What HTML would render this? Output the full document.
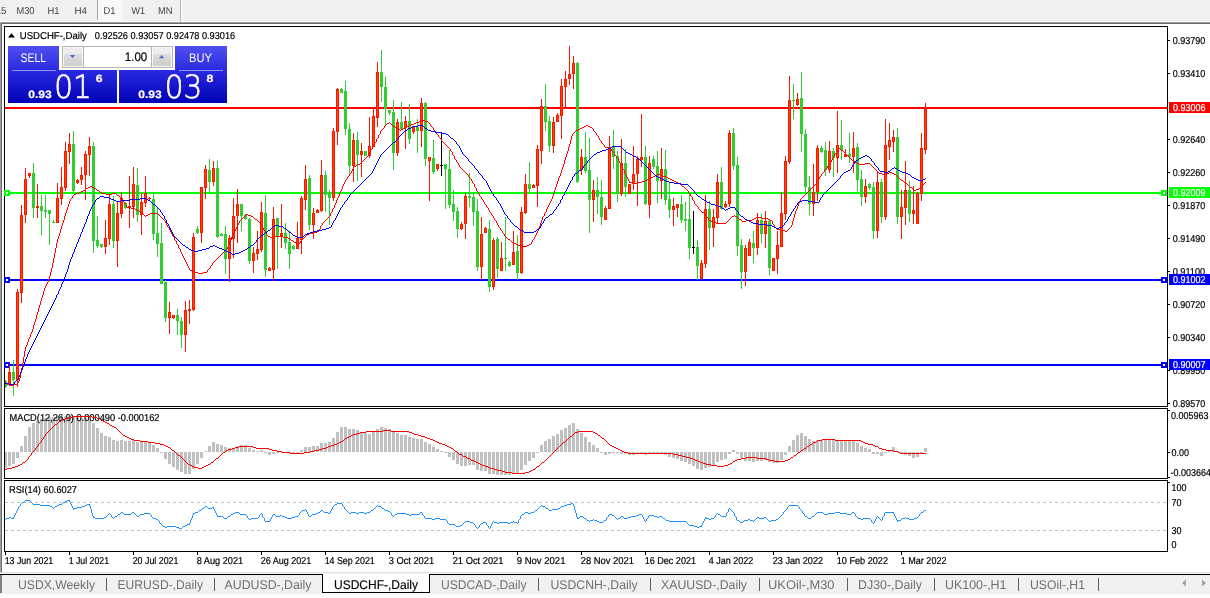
<!DOCTYPE html>
<html><head><meta charset="utf-8"><title>USDCHF-,Daily</title>
<style>html,body{margin:0;padding:0;background:#fff;overflow:hidden}svg{display:block}text{font-family:"Liberation Sans",sans-serif;white-space:pre}</style>
</head><body>
<svg text-rendering="geometricPrecision" width="1210" height="598" viewBox="0 0 1210 598">
<rect x="0" y="0" width="1210" height="598" fill="#fff"/>
<rect x="0" y="0" width="1210" height="22" fill="#f0f0f0"/>
<rect x="0" y="21" width="1210" height="1" fill="#fbfbfb"/>
<rect x="98" y="0" width="24" height="21" fill="#f8f8f8"/>
<rect x="97" y="0" width="1" height="20" fill="#a8a8a8"/>
<rect x="180" y="0" width="1" height="22" fill="#b4b4b4"/>
<rect x="181" y="0" width="1" height="22" fill="#fff"/>
<text x="-4.5" y="14" font-size="10" fill="#404040" textLength="11.0" lengthAdjust="spacingAndGlyphs">15</text>
<text x="16.5" y="14" font-size="10" fill="#404040" textLength="18.0" lengthAdjust="spacingAndGlyphs">M30</text>
<text x="47.5" y="14" font-size="10" fill="#404040" textLength="12.0" lengthAdjust="spacingAndGlyphs">H1</text>
<text x="74.5" y="14" font-size="10" fill="#404040" textLength="12.5" lengthAdjust="spacingAndGlyphs">H4</text>
<text x="103.5" y="14" font-size="10" fill="#404040" textLength="12.0" lengthAdjust="spacingAndGlyphs">D1</text>
<text x="131.5" y="14" font-size="10" fill="#404040" textLength="13.5" lengthAdjust="spacingAndGlyphs">W1</text>
<text x="158" y="14" font-size="10" fill="#404040" textLength="14.5" lengthAdjust="spacingAndGlyphs">MN</text>
<rect x="0" y="22" width="1210" height="1" fill="#a0a0a0"/>
<rect x="0" y="23" width="1210" height="1" fill="#696969"/>
<rect x="0" y="22" width="1" height="550" fill="#a0a0a0"/>
<rect x="1" y="23" width="1" height="549" fill="#696969"/>
<rect x="4" y="26" width="1164" height="1" fill="#000"/>
<rect x="4" y="406" width="1164" height="1" fill="#000"/>
<rect x="4" y="26" width="1" height="381" fill="#000"/>
<rect x="1167" y="26" width="1" height="381" fill="#000"/>
<rect x="4" y="408" width="1164" height="1" fill="#000"/>
<rect x="4" y="478" width="1164" height="1" fill="#000"/>
<rect x="4" y="408" width="1" height="71" fill="#000"/>
<rect x="1167" y="408" width="1" height="71" fill="#000"/>
<rect x="4" y="480" width="1164" height="1" fill="#000"/>
<rect x="4" y="551" width="1164" height="1" fill="#000"/>
<rect x="4" y="480" width="1" height="72" fill="#000"/>
<rect x="1167" y="480" width="1" height="72" fill="#000"/>
<rect x="1168" y="40" width="2" height="1" fill="#000"/>
<text x="1172.7" y="44" font-size="10" fill="#000" textLength="32.5" lengthAdjust="spacingAndGlyphs" stroke="#000" stroke-width="0.2">0.93790</text>
<rect x="1168" y="73" width="2" height="1" fill="#000"/>
<text x="1172.7" y="77" font-size="10" fill="#000" textLength="32.5" lengthAdjust="spacingAndGlyphs" stroke="#000" stroke-width="0.2">0.93410</text>
<rect x="1168" y="139" width="2" height="1" fill="#000"/>
<text x="1172.7" y="143" font-size="10" fill="#000" textLength="32.5" lengthAdjust="spacingAndGlyphs" stroke="#000" stroke-width="0.2">0.92640</text>
<rect x="1168" y="172" width="2" height="1" fill="#000"/>
<text x="1172.7" y="176" font-size="10" fill="#000" textLength="32.5" lengthAdjust="spacingAndGlyphs" stroke="#000" stroke-width="0.2">0.92260</text>
<rect x="1168" y="205" width="2" height="1" fill="#000"/>
<text x="1172.7" y="209" font-size="10" fill="#000" textLength="32.5" lengthAdjust="spacingAndGlyphs" stroke="#000" stroke-width="0.2">0.91870</text>
<rect x="1168" y="238" width="2" height="1" fill="#000"/>
<text x="1172.7" y="242" font-size="10" fill="#000" textLength="32.5" lengthAdjust="spacingAndGlyphs" stroke="#000" stroke-width="0.2">0.91490</text>
<rect x="1168" y="271" width="2" height="1" fill="#000"/>
<text x="1172.7" y="275" font-size="10" fill="#000" textLength="32.5" lengthAdjust="spacingAndGlyphs" stroke="#000" stroke-width="0.2">0.91100</text>
<rect x="1168" y="304" width="2" height="1" fill="#000"/>
<text x="1172.7" y="308" font-size="10" fill="#000" textLength="32.5" lengthAdjust="spacingAndGlyphs" stroke="#000" stroke-width="0.2">0.90720</text>
<rect x="1168" y="337" width="2" height="1" fill="#000"/>
<text x="1172.7" y="341" font-size="10" fill="#000" textLength="32.5" lengthAdjust="spacingAndGlyphs" stroke="#000" stroke-width="0.2">0.90340</text>
<rect x="1168" y="370" width="2" height="1" fill="#000"/>
<text x="1172.7" y="374" font-size="10" fill="#000" textLength="32.5" lengthAdjust="spacingAndGlyphs" stroke="#000" stroke-width="0.2">0.89950</text>
<rect x="1168" y="403" width="2" height="1" fill="#000"/>
<text x="1172.7" y="407" font-size="10" fill="#000" textLength="32.5" lengthAdjust="spacingAndGlyphs" stroke="#000" stroke-width="0.2">0.89570</text>
<rect x="5" y="107" width="1162" height="2" fill="#ff0000"/>
<rect x="1169" y="102" width="41" height="11" fill="#ff0000"/>
<text x="1173" y="111" font-size="10" fill="#fff" textLength="32.5" lengthAdjust="spacingAndGlyphs" stroke="#fff" stroke-width="0.2">0.93006</text>
<rect x="5" y="192" width="1162" height="2" fill="#00ff00"/>
<rect x="4" y="190" width="6" height="6" fill="#00ff00"/>
<rect x="6" y="192" width="2" height="2" fill="#fff"/>
<rect x="1161" y="190" width="6" height="6" fill="#00ff00"/>
<rect x="1163" y="192" width="2" height="2" fill="#fff"/>
<rect x="1169" y="187" width="41" height="11" fill="#00ff00"/>
<text x="1173" y="196" font-size="10" fill="#fff" textLength="32.5" lengthAdjust="spacingAndGlyphs" stroke="#fff" stroke-width="0.2">0.92009</text>
<rect x="5" y="279" width="1162" height="2" fill="#0000ff"/>
<rect x="4" y="277" width="6" height="6" fill="#0000ff"/>
<rect x="6" y="279" width="2" height="2" fill="#fff"/>
<rect x="1161" y="277" width="6" height="6" fill="#0000ff"/>
<rect x="1163" y="279" width="2" height="2" fill="#fff"/>
<rect x="1169" y="274" width="41" height="11" fill="#0000ff"/>
<text x="1173" y="283" font-size="10" fill="#fff" textLength="32.5" lengthAdjust="spacingAndGlyphs" stroke="#fff" stroke-width="0.2">0.91002</text>
<rect x="5" y="364" width="1162" height="2" fill="#0000ff"/>
<rect x="4" y="362" width="6" height="6" fill="#0000ff"/>
<rect x="6" y="364" width="2" height="2" fill="#fff"/>
<rect x="1161" y="362" width="6" height="6" fill="#0000ff"/>
<rect x="1163" y="364" width="2" height="2" fill="#fff"/>
<rect x="1169" y="359" width="41" height="11" fill="#0000ff"/>
<text x="1173" y="368" font-size="10" fill="#fff" textLength="32.5" lengthAdjust="spacingAndGlyphs" stroke="#fff" stroke-width="0.2">0.90007</text>
<g shape-rendering="crispEdges">
<rect x="5" y="380" width="1" height="8" fill="#32cd32"/>
<rect x="5" y="381" width="2" height="6" fill="#32cd32"/>
<rect x="9" y="365" width="1" height="21" fill="#ff1400"/>
<rect x="8" y="372" width="3" height="12" fill="#ff1400"/>
<rect x="9" y="373" width="1" height="10" fill="#ff4500"/>
<rect x="13" y="360" width="1" height="36" fill="#32cd32"/>
<rect x="12" y="372" width="3" height="8" fill="#32cd32"/>
<rect x="17" y="289" width="1" height="98" fill="#ff1400"/>
<rect x="16" y="292" width="3" height="88" fill="#ff1400"/>
<rect x="17" y="293" width="1" height="86" fill="#ff4500"/>
<rect x="21" y="205" width="1" height="98" fill="#ff1400"/>
<rect x="20" y="215" width="3" height="78" fill="#ff1400"/>
<rect x="21" y="216" width="1" height="76" fill="#ff4500"/>
<rect x="25" y="168" width="1" height="55" fill="#ff1400"/>
<rect x="24" y="179" width="3" height="36" fill="#ff1400"/>
<rect x="25" y="180" width="1" height="34" fill="#ff4500"/>
<rect x="29" y="173" width="1" height="5" fill="#ff1400"/>
<rect x="28" y="173" width="3" height="3" fill="#ff1400"/>
<rect x="29" y="174" width="1" height="1" fill="#ff4500"/>
<rect x="33" y="163" width="1" height="55" fill="#32cd32"/>
<rect x="32" y="173" width="3" height="35" fill="#32cd32"/>
<rect x="37" y="184" width="1" height="34" fill="#ff1400"/>
<rect x="36" y="206" width="3" height="2" fill="#ff1400"/>
<rect x="41" y="195" width="1" height="40" fill="#32cd32"/>
<rect x="40" y="206" width="3" height="5" fill="#32cd32"/>
<rect x="45" y="195" width="1" height="23" fill="#32cd32"/>
<rect x="44" y="210" width="3" height="2" fill="#32cd32"/>
<rect x="49" y="210" width="1" height="35" fill="#32cd32"/>
<rect x="48" y="210" width="3" height="4" fill="#32cd32"/>
<rect x="53" y="220" width="1" height="3" fill="#32cd32"/>
<rect x="52" y="222" width="3" height="1" fill="#32cd32"/>
<rect x="57" y="183" width="1" height="40" fill="#ff1400"/>
<rect x="56" y="198" width="3" height="25" fill="#ff1400"/>
<rect x="57" y="199" width="1" height="23" fill="#ff4500"/>
<rect x="61" y="167" width="1" height="38" fill="#ff1400"/>
<rect x="60" y="187" width="3" height="12" fill="#ff1400"/>
<rect x="61" y="188" width="1" height="10" fill="#ff4500"/>
<rect x="65" y="142" width="1" height="49" fill="#ff1400"/>
<rect x="64" y="151" width="3" height="37" fill="#ff1400"/>
<rect x="65" y="152" width="1" height="35" fill="#ff4500"/>
<rect x="69" y="133" width="1" height="31" fill="#ff1400"/>
<rect x="68" y="144" width="3" height="8" fill="#ff1400"/>
<rect x="69" y="145" width="1" height="6" fill="#ff4500"/>
<rect x="73" y="131" width="1" height="61" fill="#32cd32"/>
<rect x="72" y="144" width="3" height="47" fill="#32cd32"/>
<rect x="77" y="179" width="1" height="5" fill="#ff1400"/>
<rect x="76" y="180" width="3" height="3" fill="#ff1400"/>
<rect x="77" y="181" width="1" height="1" fill="#ff4500"/>
<rect x="81" y="167" width="1" height="18" fill="#ff1400"/>
<rect x="80" y="175" width="3" height="5" fill="#ff1400"/>
<rect x="81" y="176" width="1" height="3" fill="#ff4500"/>
<rect x="85" y="151" width="1" height="49" fill="#ff1400"/>
<rect x="84" y="154" width="3" height="21" fill="#ff1400"/>
<rect x="85" y="155" width="1" height="19" fill="#ff4500"/>
<rect x="89" y="137" width="1" height="39" fill="#ff1400"/>
<rect x="88" y="146" width="3" height="9" fill="#ff1400"/>
<rect x="89" y="147" width="1" height="7" fill="#ff4500"/>
<rect x="93" y="142" width="1" height="111" fill="#32cd32"/>
<rect x="92" y="146" width="3" height="95" fill="#32cd32"/>
<rect x="97" y="216" width="1" height="32" fill="#32cd32"/>
<rect x="96" y="240" width="3" height="6" fill="#32cd32"/>
<rect x="101" y="244" width="1" height="4" fill="#32cd32"/>
<rect x="100" y="244" width="3" height="3" fill="#32cd32"/>
<rect x="105" y="220" width="1" height="34" fill="#ff1400"/>
<rect x="104" y="238" width="3" height="9" fill="#ff1400"/>
<rect x="105" y="239" width="1" height="7" fill="#ff4500"/>
<rect x="109" y="194" width="1" height="51" fill="#ff1400"/>
<rect x="108" y="204" width="3" height="35" fill="#ff1400"/>
<rect x="109" y="205" width="1" height="33" fill="#ff4500"/>
<rect x="113" y="196" width="1" height="52" fill="#32cd32"/>
<rect x="112" y="204" width="3" height="37" fill="#32cd32"/>
<rect x="117" y="201" width="1" height="66" fill="#ff1400"/>
<rect x="116" y="213" width="3" height="28" fill="#ff1400"/>
<rect x="117" y="214" width="1" height="26" fill="#ff4500"/>
<rect x="121" y="192" width="1" height="26" fill="#ff1400"/>
<rect x="120" y="198" width="3" height="16" fill="#ff1400"/>
<rect x="121" y="199" width="1" height="14" fill="#ff4500"/>
<rect x="125" y="202" width="1" height="7" fill="#32cd32"/>
<rect x="124" y="203" width="3" height="5" fill="#32cd32"/>
<rect x="129" y="176" width="1" height="52" fill="#ff1400"/>
<rect x="128" y="206" width="3" height="2" fill="#ff1400"/>
<rect x="133" y="167" width="1" height="51" fill="#ff1400"/>
<rect x="132" y="184" width="3" height="23" fill="#ff1400"/>
<rect x="133" y="185" width="1" height="21" fill="#ff4500"/>
<rect x="137" y="168" width="1" height="54" fill="#32cd32"/>
<rect x="136" y="185" width="3" height="30" fill="#32cd32"/>
<rect x="141" y="193" width="1" height="42" fill="#ff1400"/>
<rect x="140" y="202" width="3" height="13" fill="#ff1400"/>
<rect x="141" y="203" width="1" height="11" fill="#ff4500"/>
<rect x="145" y="176" width="1" height="31" fill="#ff1400"/>
<rect x="144" y="193" width="3" height="10" fill="#ff1400"/>
<rect x="145" y="194" width="1" height="8" fill="#ff4500"/>
<rect x="149" y="197" width="1" height="3" fill="#ff1400"/>
<rect x="148" y="198" width="3" height="1" fill="#ff1400"/>
<rect x="153" y="194" width="1" height="46" fill="#32cd32"/>
<rect x="152" y="199" width="3" height="35" fill="#32cd32"/>
<rect x="157" y="207" width="1" height="50" fill="#32cd32"/>
<rect x="156" y="233" width="3" height="11" fill="#32cd32"/>
<rect x="161" y="223" width="1" height="61" fill="#32cd32"/>
<rect x="160" y="243" width="3" height="41" fill="#32cd32"/>
<rect x="165" y="280" width="1" height="42" fill="#32cd32"/>
<rect x="164" y="282" width="3" height="36" fill="#32cd32"/>
<rect x="169" y="302" width="1" height="32" fill="#ff1400"/>
<rect x="168" y="312" width="3" height="6" fill="#ff1400"/>
<rect x="169" y="313" width="1" height="4" fill="#ff4500"/>
<rect x="173" y="315" width="1" height="4" fill="#ff1400"/>
<rect x="172" y="315" width="3" height="3" fill="#ff1400"/>
<rect x="173" y="316" width="1" height="1" fill="#ff4500"/>
<rect x="177" y="309" width="1" height="26" fill="#32cd32"/>
<rect x="176" y="315" width="3" height="6" fill="#32cd32"/>
<rect x="181" y="317" width="1" height="31" fill="#32cd32"/>
<rect x="180" y="321" width="3" height="14" fill="#32cd32"/>
<rect x="185" y="301" width="1" height="51" fill="#ff1400"/>
<rect x="184" y="310" width="3" height="25" fill="#ff1400"/>
<rect x="185" y="311" width="1" height="23" fill="#ff4500"/>
<rect x="189" y="300" width="1" height="24" fill="#ff1400"/>
<rect x="188" y="309" width="3" height="2" fill="#ff1400"/>
<rect x="193" y="233" width="1" height="78" fill="#ff1400"/>
<rect x="192" y="237" width="3" height="73" fill="#ff1400"/>
<rect x="193" y="238" width="1" height="71" fill="#ff4500"/>
<rect x="197" y="226" width="1" height="8" fill="#32cd32"/>
<rect x="196" y="229" width="3" height="4" fill="#32cd32"/>
<rect x="201" y="187" width="1" height="56" fill="#ff1400"/>
<rect x="200" y="187" width="3" height="46" fill="#ff1400"/>
<rect x="201" y="188" width="1" height="44" fill="#ff4500"/>
<rect x="205" y="165" width="1" height="34" fill="#ff1400"/>
<rect x="204" y="169" width="3" height="19" fill="#ff1400"/>
<rect x="205" y="170" width="1" height="17" fill="#ff4500"/>
<rect x="209" y="159" width="1" height="33" fill="#32cd32"/>
<rect x="208" y="170" width="3" height="12" fill="#32cd32"/>
<rect x="213" y="161" width="1" height="25" fill="#ff1400"/>
<rect x="212" y="168" width="3" height="14" fill="#ff1400"/>
<rect x="213" y="169" width="1" height="12" fill="#ff4500"/>
<rect x="217" y="161" width="1" height="77" fill="#32cd32"/>
<rect x="216" y="168" width="3" height="69" fill="#32cd32"/>
<rect x="221" y="233" width="1" height="3" fill="#32cd32"/>
<rect x="220" y="234" width="3" height="2" fill="#32cd32"/>
<rect x="225" y="226" width="1" height="48" fill="#32cd32"/>
<rect x="224" y="234" width="3" height="25" fill="#32cd32"/>
<rect x="229" y="235" width="1" height="47" fill="#ff1400"/>
<rect x="228" y="238" width="3" height="21" fill="#ff1400"/>
<rect x="229" y="239" width="1" height="19" fill="#ff4500"/>
<rect x="233" y="198" width="1" height="60" fill="#ff1400"/>
<rect x="232" y="216" width="3" height="23" fill="#ff1400"/>
<rect x="233" y="217" width="1" height="21" fill="#ff4500"/>
<rect x="237" y="189" width="1" height="54" fill="#ff1400"/>
<rect x="236" y="204" width="3" height="12" fill="#ff1400"/>
<rect x="237" y="205" width="1" height="10" fill="#ff4500"/>
<rect x="241" y="204" width="1" height="27" fill="#32cd32"/>
<rect x="240" y="204" width="3" height="12" fill="#32cd32"/>
<rect x="245" y="214" width="1" height="6" fill="#32cd32"/>
<rect x="244" y="215" width="3" height="4" fill="#32cd32"/>
<rect x="249" y="218" width="1" height="46" fill="#32cd32"/>
<rect x="248" y="219" width="3" height="42" fill="#32cd32"/>
<rect x="253" y="247" width="1" height="26" fill="#ff1400"/>
<rect x="252" y="253" width="3" height="8" fill="#ff1400"/>
<rect x="253" y="254" width="1" height="6" fill="#ff4500"/>
<rect x="257" y="231" width="1" height="29" fill="#ff1400"/>
<rect x="256" y="249" width="3" height="5" fill="#ff1400"/>
<rect x="257" y="250" width="1" height="3" fill="#ff4500"/>
<rect x="261" y="202" width="1" height="50" fill="#ff1400"/>
<rect x="260" y="212" width="3" height="38" fill="#ff1400"/>
<rect x="261" y="213" width="1" height="36" fill="#ff4500"/>
<rect x="265" y="195" width="1" height="82" fill="#32cd32"/>
<rect x="264" y="213" width="3" height="57" fill="#32cd32"/>
<rect x="269" y="267" width="1" height="4" fill="#ff1400"/>
<rect x="268" y="268" width="3" height="3" fill="#ff1400"/>
<rect x="269" y="269" width="1" height="1" fill="#ff4500"/>
<rect x="273" y="207" width="1" height="74" fill="#ff1400"/>
<rect x="272" y="219" width="3" height="51" fill="#ff1400"/>
<rect x="273" y="220" width="1" height="49" fill="#ff4500"/>
<rect x="277" y="218" width="1" height="51" fill="#32cd32"/>
<rect x="276" y="218" width="3" height="18" fill="#32cd32"/>
<rect x="281" y="204" width="1" height="44" fill="#ff1400"/>
<rect x="280" y="233" width="3" height="3" fill="#ff1400"/>
<rect x="281" y="234" width="1" height="1" fill="#ff4500"/>
<rect x="285" y="223" width="1" height="26" fill="#32cd32"/>
<rect x="284" y="233" width="3" height="10" fill="#32cd32"/>
<rect x="289" y="230" width="1" height="39" fill="#32cd32"/>
<rect x="288" y="242" width="3" height="12" fill="#32cd32"/>
<rect x="293" y="245" width="1" height="5" fill="#32cd32"/>
<rect x="292" y="246" width="3" height="3" fill="#32cd32"/>
<rect x="297" y="222" width="1" height="27" fill="#ff1400"/>
<rect x="296" y="238" width="3" height="11" fill="#ff1400"/>
<rect x="297" y="239" width="1" height="9" fill="#ff4500"/>
<rect x="301" y="196" width="1" height="58" fill="#ff1400"/>
<rect x="300" y="198" width="3" height="42" fill="#ff1400"/>
<rect x="301" y="199" width="1" height="40" fill="#ff4500"/>
<rect x="305" y="165" width="1" height="45" fill="#ff1400"/>
<rect x="304" y="179" width="3" height="21" fill="#ff1400"/>
<rect x="305" y="180" width="1" height="19" fill="#ff4500"/>
<rect x="309" y="175" width="1" height="55" fill="#32cd32"/>
<rect x="308" y="178" width="3" height="47" fill="#32cd32"/>
<rect x="313" y="208" width="1" height="31" fill="#ff1400"/>
<rect x="312" y="213" width="3" height="12" fill="#ff1400"/>
<rect x="313" y="214" width="1" height="10" fill="#ff4500"/>
<rect x="317" y="209" width="1" height="4" fill="#ff1400"/>
<rect x="316" y="210" width="3" height="3" fill="#ff1400"/>
<rect x="317" y="211" width="1" height="1" fill="#ff4500"/>
<rect x="321" y="160" width="1" height="52" fill="#ff1400"/>
<rect x="320" y="175" width="3" height="36" fill="#ff1400"/>
<rect x="321" y="176" width="1" height="34" fill="#ff4500"/>
<rect x="325" y="171" width="1" height="41" fill="#32cd32"/>
<rect x="324" y="175" width="3" height="20" fill="#32cd32"/>
<rect x="329" y="190" width="1" height="35" fill="#32cd32"/>
<rect x="328" y="192" width="3" height="6" fill="#32cd32"/>
<rect x="333" y="128" width="1" height="73" fill="#ff1400"/>
<rect x="332" y="131" width="3" height="67" fill="#ff1400"/>
<rect x="333" y="132" width="1" height="65" fill="#ff4500"/>
<rect x="337" y="88" width="1" height="57" fill="#ff1400"/>
<rect x="336" y="89" width="3" height="43" fill="#ff1400"/>
<rect x="337" y="90" width="1" height="41" fill="#ff4500"/>
<rect x="341" y="88" width="1" height="5" fill="#32cd32"/>
<rect x="340" y="89" width="3" height="4" fill="#32cd32"/>
<rect x="345" y="81" width="1" height="54" fill="#32cd32"/>
<rect x="344" y="91" width="3" height="38" fill="#32cd32"/>
<rect x="349" y="123" width="1" height="51" fill="#32cd32"/>
<rect x="348" y="129" width="3" height="37" fill="#32cd32"/>
<rect x="353" y="133" width="1" height="49" fill="#ff1400"/>
<rect x="352" y="140" width="3" height="26" fill="#ff1400"/>
<rect x="353" y="141" width="1" height="24" fill="#ff4500"/>
<rect x="357" y="132" width="1" height="49" fill="#32cd32"/>
<rect x="356" y="140" width="3" height="15" fill="#32cd32"/>
<rect x="361" y="143" width="1" height="34" fill="#ff1400"/>
<rect x="360" y="151" width="3" height="4" fill="#ff1400"/>
<rect x="361" y="152" width="1" height="2" fill="#ff4500"/>
<rect x="365" y="151" width="1" height="5" fill="#32cd32"/>
<rect x="364" y="151" width="3" height="5" fill="#32cd32"/>
<rect x="369" y="117" width="1" height="41" fill="#ff1400"/>
<rect x="368" y="146" width="3" height="10" fill="#ff1400"/>
<rect x="369" y="147" width="1" height="8" fill="#ff4500"/>
<rect x="373" y="108" width="1" height="39" fill="#ff1400"/>
<rect x="372" y="116" width="3" height="31" fill="#ff1400"/>
<rect x="373" y="117" width="1" height="29" fill="#ff4500"/>
<rect x="377" y="62" width="1" height="65" fill="#ff1400"/>
<rect x="376" y="72" width="3" height="46" fill="#ff1400"/>
<rect x="377" y="73" width="1" height="44" fill="#ff4500"/>
<rect x="381" y="50" width="1" height="52" fill="#32cd32"/>
<rect x="380" y="72" width="3" height="15" fill="#32cd32"/>
<rect x="385" y="77" width="1" height="48" fill="#32cd32"/>
<rect x="384" y="87" width="3" height="22" fill="#32cd32"/>
<rect x="389" y="110" width="1" height="5" fill="#32cd32"/>
<rect x="388" y="110" width="3" height="3" fill="#32cd32"/>
<rect x="393" y="100" width="1" height="70" fill="#32cd32"/>
<rect x="392" y="112" width="3" height="41" fill="#32cd32"/>
<rect x="397" y="119" width="1" height="37" fill="#ff1400"/>
<rect x="396" y="122" width="3" height="31" fill="#ff1400"/>
<rect x="397" y="123" width="1" height="29" fill="#ff4500"/>
<rect x="401" y="102" width="1" height="28" fill="#32cd32"/>
<rect x="400" y="122" width="3" height="7" fill="#32cd32"/>
<rect x="405" y="116" width="1" height="33" fill="#ff1400"/>
<rect x="404" y="121" width="3" height="7" fill="#ff1400"/>
<rect x="405" y="122" width="1" height="5" fill="#ff4500"/>
<rect x="409" y="104" width="1" height="40" fill="#32cd32"/>
<rect x="408" y="121" width="3" height="18" fill="#32cd32"/>
<rect x="413" y="126" width="1" height="8" fill="#ff1400"/>
<rect x="412" y="127" width="3" height="5" fill="#ff1400"/>
<rect x="413" y="128" width="1" height="3" fill="#ff4500"/>
<rect x="417" y="119" width="1" height="34" fill="#32cd32"/>
<rect x="416" y="127" width="3" height="4" fill="#32cd32"/>
<rect x="421" y="98" width="1" height="49" fill="#ff1400"/>
<rect x="420" y="103" width="3" height="28" fill="#ff1400"/>
<rect x="421" y="104" width="1" height="26" fill="#ff4500"/>
<rect x="425" y="102" width="1" height="64" fill="#32cd32"/>
<rect x="424" y="103" width="3" height="56" fill="#32cd32"/>
<rect x="429" y="157" width="1" height="44" fill="#ff1400"/>
<rect x="428" y="157" width="3" height="4" fill="#ff1400"/>
<rect x="429" y="158" width="1" height="2" fill="#ff4500"/>
<rect x="433" y="140" width="1" height="34" fill="#32cd32"/>
<rect x="432" y="158" width="3" height="14" fill="#32cd32"/>
<rect x="437" y="164" width="1" height="7" fill="#ff1400"/>
<rect x="436" y="164" width="3" height="5" fill="#ff1400"/>
<rect x="437" y="165" width="1" height="3" fill="#ff4500"/>
<rect x="441" y="133" width="1" height="43" fill="#000"/>
<rect x="440" y="165" width="3" height="1" fill="#000"/>
<rect x="445" y="164" width="1" height="45" fill="#32cd32"/>
<rect x="444" y="164" width="3" height="5" fill="#32cd32"/>
<rect x="449" y="150" width="1" height="58" fill="#32cd32"/>
<rect x="448" y="169" width="3" height="36" fill="#32cd32"/>
<rect x="453" y="190" width="1" height="31" fill="#32cd32"/>
<rect x="452" y="204" width="3" height="8" fill="#32cd32"/>
<rect x="457" y="207" width="1" height="31" fill="#32cd32"/>
<rect x="456" y="211" width="3" height="18" fill="#32cd32"/>
<rect x="461" y="222" width="1" height="8" fill="#ff1400"/>
<rect x="460" y="224" width="3" height="5" fill="#ff1400"/>
<rect x="461" y="225" width="1" height="3" fill="#ff4500"/>
<rect x="465" y="193" width="1" height="46" fill="#ff1400"/>
<rect x="464" y="196" width="3" height="28" fill="#ff1400"/>
<rect x="465" y="197" width="1" height="26" fill="#ff4500"/>
<rect x="469" y="173" width="1" height="34" fill="#32cd32"/>
<rect x="468" y="196" width="3" height="2" fill="#32cd32"/>
<rect x="473" y="193" width="1" height="33" fill="#32cd32"/>
<rect x="472" y="197" width="3" height="15" fill="#32cd32"/>
<rect x="477" y="199" width="1" height="72" fill="#32cd32"/>
<rect x="476" y="211" width="3" height="56" fill="#32cd32"/>
<rect x="481" y="217" width="1" height="63" fill="#ff1400"/>
<rect x="480" y="234" width="3" height="33" fill="#ff1400"/>
<rect x="481" y="235" width="1" height="31" fill="#ff4500"/>
<rect x="485" y="227" width="1" height="6" fill="#ff1400"/>
<rect x="484" y="228" width="3" height="5" fill="#ff1400"/>
<rect x="485" y="229" width="1" height="3" fill="#ff4500"/>
<rect x="489" y="220" width="1" height="72" fill="#32cd32"/>
<rect x="488" y="229" width="3" height="58" fill="#32cd32"/>
<rect x="493" y="238" width="1" height="52" fill="#ff1400"/>
<rect x="492" y="240" width="3" height="47" fill="#ff1400"/>
<rect x="493" y="241" width="1" height="45" fill="#ff4500"/>
<rect x="497" y="237" width="1" height="41" fill="#32cd32"/>
<rect x="496" y="239" width="3" height="30" fill="#32cd32"/>
<rect x="501" y="242" width="1" height="29" fill="#ff1400"/>
<rect x="500" y="258" width="3" height="13" fill="#ff1400"/>
<rect x="501" y="259" width="1" height="11" fill="#ff4500"/>
<rect x="505" y="217" width="1" height="54" fill="#32cd32"/>
<rect x="504" y="258" width="3" height="1" fill="#32cd32"/>
<rect x="509" y="261" width="1" height="6" fill="#32cd32"/>
<rect x="508" y="262" width="3" height="4" fill="#32cd32"/>
<rect x="513" y="231" width="1" height="34" fill="#ff1400"/>
<rect x="512" y="252" width="3" height="13" fill="#ff1400"/>
<rect x="513" y="253" width="1" height="11" fill="#ff4500"/>
<rect x="517" y="235" width="1" height="45" fill="#32cd32"/>
<rect x="516" y="251" width="3" height="22" fill="#32cd32"/>
<rect x="521" y="207" width="1" height="67" fill="#ff1400"/>
<rect x="520" y="212" width="3" height="61" fill="#ff1400"/>
<rect x="521" y="213" width="1" height="59" fill="#ff4500"/>
<rect x="525" y="174" width="1" height="40" fill="#ff1400"/>
<rect x="524" y="184" width="3" height="29" fill="#ff1400"/>
<rect x="525" y="185" width="1" height="27" fill="#ff4500"/>
<rect x="529" y="162" width="1" height="31" fill="#32cd32"/>
<rect x="528" y="184" width="3" height="5" fill="#32cd32"/>
<rect x="533" y="184" width="1" height="4" fill="#ff1400"/>
<rect x="532" y="185" width="3" height="3" fill="#ff1400"/>
<rect x="533" y="186" width="1" height="1" fill="#ff4500"/>
<rect x="537" y="145" width="1" height="62" fill="#ff1400"/>
<rect x="536" y="149" width="3" height="37" fill="#ff1400"/>
<rect x="537" y="150" width="1" height="35" fill="#ff4500"/>
<rect x="541" y="99" width="1" height="65" fill="#ff1400"/>
<rect x="540" y="106" width="3" height="45" fill="#ff1400"/>
<rect x="541" y="107" width="1" height="43" fill="#ff4500"/>
<rect x="545" y="84" width="1" height="47" fill="#32cd32"/>
<rect x="544" y="106" width="3" height="16" fill="#32cd32"/>
<rect x="549" y="116" width="1" height="36" fill="#32cd32"/>
<rect x="548" y="121" width="3" height="25" fill="#32cd32"/>
<rect x="553" y="117" width="1" height="36" fill="#ff1400"/>
<rect x="552" y="122" width="3" height="24" fill="#ff1400"/>
<rect x="553" y="123" width="1" height="22" fill="#ff4500"/>
<rect x="557" y="113" width="1" height="9" fill="#ff1400"/>
<rect x="556" y="115" width="3" height="7" fill="#ff1400"/>
<rect x="557" y="116" width="1" height="5" fill="#ff4500"/>
<rect x="561" y="79" width="1" height="60" fill="#ff1400"/>
<rect x="560" y="86" width="3" height="30" fill="#ff1400"/>
<rect x="561" y="87" width="1" height="28" fill="#ff4500"/>
<rect x="565" y="71" width="1" height="36" fill="#ff1400"/>
<rect x="564" y="79" width="3" height="8" fill="#ff1400"/>
<rect x="565" y="80" width="1" height="6" fill="#ff4500"/>
<rect x="569" y="46" width="1" height="39" fill="#ff1400"/>
<rect x="568" y="74" width="3" height="5" fill="#ff1400"/>
<rect x="569" y="75" width="1" height="3" fill="#ff4500"/>
<rect x="573" y="56" width="1" height="33" fill="#ff1400"/>
<rect x="572" y="63" width="3" height="11" fill="#ff1400"/>
<rect x="573" y="64" width="1" height="9" fill="#ff4500"/>
<rect x="577" y="62" width="1" height="121" fill="#32cd32"/>
<rect x="576" y="63" width="3" height="119" fill="#32cd32"/>
<rect x="581" y="149" width="1" height="26" fill="#ff1400"/>
<rect x="580" y="157" width="3" height="13" fill="#ff1400"/>
<rect x="581" y="158" width="1" height="11" fill="#ff4500"/>
<rect x="585" y="132" width="1" height="41" fill="#32cd32"/>
<rect x="584" y="157" width="3" height="14" fill="#32cd32"/>
<rect x="589" y="138" width="1" height="95" fill="#32cd32"/>
<rect x="588" y="170" width="3" height="30" fill="#32cd32"/>
<rect x="593" y="180" width="1" height="42" fill="#ff1400"/>
<rect x="592" y="190" width="3" height="10" fill="#ff1400"/>
<rect x="593" y="191" width="1" height="8" fill="#ff4500"/>
<rect x="597" y="177" width="1" height="37" fill="#32cd32"/>
<rect x="596" y="190" width="3" height="7" fill="#32cd32"/>
<rect x="601" y="180" width="1" height="45" fill="#32cd32"/>
<rect x="600" y="197" width="3" height="20" fill="#32cd32"/>
<rect x="605" y="206" width="1" height="14" fill="#ff1400"/>
<rect x="604" y="208" width="3" height="12" fill="#ff1400"/>
<rect x="605" y="209" width="1" height="10" fill="#ff4500"/>
<rect x="609" y="136" width="1" height="73" fill="#ff1400"/>
<rect x="608" y="147" width="3" height="62" fill="#ff1400"/>
<rect x="609" y="148" width="1" height="60" fill="#ff4500"/>
<rect x="613" y="130" width="1" height="39" fill="#32cd32"/>
<rect x="612" y="147" width="3" height="10" fill="#32cd32"/>
<rect x="617" y="151" width="1" height="51" fill="#32cd32"/>
<rect x="616" y="156" width="3" height="38" fill="#32cd32"/>
<rect x="621" y="139" width="1" height="57" fill="#ff1400"/>
<rect x="620" y="163" width="3" height="31" fill="#ff1400"/>
<rect x="621" y="164" width="1" height="29" fill="#ff4500"/>
<rect x="625" y="149" width="1" height="48" fill="#32cd32"/>
<rect x="624" y="163" width="3" height="24" fill="#32cd32"/>
<rect x="629" y="184" width="1" height="10" fill="#ff1400"/>
<rect x="628" y="184" width="3" height="10" fill="#ff1400"/>
<rect x="629" y="185" width="1" height="8" fill="#ff4500"/>
<rect x="633" y="146" width="1" height="44" fill="#ff1400"/>
<rect x="632" y="174" width="3" height="10" fill="#ff1400"/>
<rect x="633" y="175" width="1" height="8" fill="#ff4500"/>
<rect x="637" y="156" width="1" height="50" fill="#ff1400"/>
<rect x="636" y="159" width="3" height="15" fill="#ff1400"/>
<rect x="637" y="160" width="1" height="13" fill="#ff4500"/>
<rect x="641" y="114" width="1" height="53" fill="#ff1400"/>
<rect x="640" y="157" width="3" height="3" fill="#ff1400"/>
<rect x="641" y="158" width="1" height="1" fill="#ff4500"/>
<rect x="645" y="146" width="1" height="59" fill="#32cd32"/>
<rect x="644" y="157" width="3" height="47" fill="#32cd32"/>
<rect x="649" y="156" width="1" height="62" fill="#ff1400"/>
<rect x="648" y="163" width="3" height="42" fill="#ff1400"/>
<rect x="649" y="164" width="1" height="40" fill="#ff4500"/>
<rect x="653" y="156" width="1" height="13" fill="#32cd32"/>
<rect x="652" y="159" width="3" height="8" fill="#32cd32"/>
<rect x="657" y="151" width="1" height="52" fill="#32cd32"/>
<rect x="656" y="166" width="3" height="15" fill="#32cd32"/>
<rect x="661" y="148" width="1" height="51" fill="#ff1400"/>
<rect x="660" y="169" width="3" height="12" fill="#ff1400"/>
<rect x="661" y="170" width="1" height="10" fill="#ff4500"/>
<rect x="665" y="150" width="1" height="55" fill="#32cd32"/>
<rect x="664" y="169" width="3" height="31" fill="#32cd32"/>
<rect x="669" y="183" width="1" height="35" fill="#32cd32"/>
<rect x="668" y="199" width="3" height="11" fill="#32cd32"/>
<rect x="673" y="198" width="1" height="28" fill="#ff1400"/>
<rect x="672" y="206" width="3" height="4" fill="#ff1400"/>
<rect x="673" y="207" width="1" height="2" fill="#ff4500"/>
<rect x="677" y="204" width="1" height="13" fill="#ff1400"/>
<rect x="676" y="204" width="3" height="4" fill="#ff1400"/>
<rect x="677" y="205" width="1" height="2" fill="#ff4500"/>
<rect x="681" y="195" width="1" height="28" fill="#32cd32"/>
<rect x="680" y="204" width="3" height="16" fill="#32cd32"/>
<rect x="685" y="202" width="1" height="29" fill="#32cd32"/>
<rect x="684" y="219" width="3" height="2" fill="#32cd32"/>
<rect x="689" y="194" width="1" height="65" fill="#32cd32"/>
<rect x="688" y="219" width="3" height="29" fill="#32cd32"/>
<rect x="693" y="211" width="1" height="43" fill="#000"/>
<rect x="692" y="247" width="3" height="1" fill="#000"/>
<rect x="697" y="240" width="1" height="40" fill="#32cd32"/>
<rect x="696" y="247" width="3" height="19" fill="#32cd32"/>
<rect x="701" y="260" width="1" height="19" fill="#ff1400"/>
<rect x="700" y="263" width="3" height="16" fill="#ff1400"/>
<rect x="701" y="264" width="1" height="14" fill="#ff4500"/>
<rect x="705" y="195" width="1" height="73" fill="#ff1400"/>
<rect x="704" y="209" width="3" height="55" fill="#ff1400"/>
<rect x="705" y="210" width="1" height="53" fill="#ff4500"/>
<rect x="709" y="201" width="1" height="49" fill="#32cd32"/>
<rect x="708" y="209" width="3" height="19" fill="#32cd32"/>
<rect x="713" y="209" width="1" height="38" fill="#ff1400"/>
<rect x="712" y="217" width="3" height="11" fill="#ff1400"/>
<rect x="713" y="218" width="1" height="9" fill="#ff4500"/>
<rect x="717" y="174" width="1" height="49" fill="#ff1400"/>
<rect x="716" y="182" width="3" height="36" fill="#ff1400"/>
<rect x="717" y="183" width="1" height="34" fill="#ff4500"/>
<rect x="721" y="167" width="1" height="43" fill="#32cd32"/>
<rect x="720" y="182" width="3" height="27" fill="#32cd32"/>
<rect x="725" y="201" width="1" height="7" fill="#ff1400"/>
<rect x="724" y="204" width="3" height="3" fill="#ff1400"/>
<rect x="725" y="205" width="1" height="1" fill="#ff4500"/>
<rect x="729" y="130" width="1" height="77" fill="#ff1400"/>
<rect x="728" y="133" width="3" height="71" fill="#ff1400"/>
<rect x="729" y="134" width="1" height="69" fill="#ff4500"/>
<rect x="733" y="128" width="1" height="42" fill="#32cd32"/>
<rect x="732" y="133" width="3" height="33" fill="#32cd32"/>
<rect x="737" y="157" width="1" height="99" fill="#32cd32"/>
<rect x="736" y="165" width="3" height="81" fill="#32cd32"/>
<rect x="741" y="239" width="1" height="50" fill="#32cd32"/>
<rect x="740" y="245" width="3" height="27" fill="#32cd32"/>
<rect x="745" y="245" width="1" height="41" fill="#ff1400"/>
<rect x="744" y="248" width="3" height="24" fill="#ff1400"/>
<rect x="745" y="249" width="1" height="22" fill="#ff4500"/>
<rect x="749" y="239" width="1" height="17" fill="#ff1400"/>
<rect x="748" y="242" width="3" height="14" fill="#ff1400"/>
<rect x="749" y="243" width="1" height="12" fill="#ff4500"/>
<rect x="753" y="231" width="1" height="32" fill="#32cd32"/>
<rect x="752" y="243" width="3" height="5" fill="#32cd32"/>
<rect x="757" y="213" width="1" height="42" fill="#ff1400"/>
<rect x="756" y="220" width="3" height="28" fill="#ff1400"/>
<rect x="757" y="221" width="1" height="26" fill="#ff4500"/>
<rect x="761" y="214" width="1" height="29" fill="#32cd32"/>
<rect x="760" y="220" width="3" height="14" fill="#32cd32"/>
<rect x="765" y="211" width="1" height="37" fill="#ff1400"/>
<rect x="764" y="221" width="3" height="13" fill="#ff1400"/>
<rect x="765" y="222" width="1" height="11" fill="#ff4500"/>
<rect x="769" y="219" width="1" height="56" fill="#32cd32"/>
<rect x="768" y="221" width="3" height="47" fill="#32cd32"/>
<rect x="773" y="258" width="1" height="13" fill="#ff1400"/>
<rect x="772" y="258" width="3" height="13" fill="#ff1400"/>
<rect x="773" y="259" width="1" height="11" fill="#ff4500"/>
<rect x="777" y="231" width="1" height="43" fill="#ff1400"/>
<rect x="776" y="245" width="3" height="14" fill="#ff1400"/>
<rect x="777" y="246" width="1" height="12" fill="#ff4500"/>
<rect x="781" y="192" width="1" height="55" fill="#ff1400"/>
<rect x="780" y="213" width="3" height="34" fill="#ff1400"/>
<rect x="781" y="214" width="1" height="32" fill="#ff4500"/>
<rect x="785" y="156" width="1" height="64" fill="#ff1400"/>
<rect x="784" y="161" width="3" height="53" fill="#ff1400"/>
<rect x="785" y="162" width="1" height="51" fill="#ff4500"/>
<rect x="789" y="76" width="1" height="88" fill="#ff1400"/>
<rect x="788" y="100" width="3" height="62" fill="#ff1400"/>
<rect x="789" y="101" width="1" height="60" fill="#ff4500"/>
<rect x="793" y="84" width="1" height="35" fill="#32cd32"/>
<rect x="792" y="100" width="3" height="1" fill="#32cd32"/>
<rect x="797" y="93" width="1" height="13" fill="#ff1400"/>
<rect x="796" y="99" width="3" height="6" fill="#ff1400"/>
<rect x="797" y="100" width="1" height="4" fill="#ff4500"/>
<rect x="801" y="72" width="1" height="80" fill="#32cd32"/>
<rect x="800" y="98" width="3" height="36" fill="#32cd32"/>
<rect x="805" y="129" width="1" height="63" fill="#32cd32"/>
<rect x="804" y="134" width="3" height="53" fill="#32cd32"/>
<rect x="809" y="176" width="1" height="39" fill="#32cd32"/>
<rect x="808" y="187" width="3" height="17" fill="#32cd32"/>
<rect x="813" y="164" width="1" height="52" fill="#ff1400"/>
<rect x="812" y="192" width="3" height="12" fill="#ff1400"/>
<rect x="813" y="193" width="1" height="10" fill="#ff4500"/>
<rect x="817" y="145" width="1" height="56" fill="#ff1400"/>
<rect x="816" y="148" width="3" height="44" fill="#ff1400"/>
<rect x="817" y="149" width="1" height="42" fill="#ff4500"/>
<rect x="821" y="146" width="1" height="7" fill="#32cd32"/>
<rect x="820" y="148" width="3" height="4" fill="#32cd32"/>
<rect x="825" y="142" width="1" height="34" fill="#32cd32"/>
<rect x="824" y="150" width="3" height="20" fill="#32cd32"/>
<rect x="829" y="141" width="1" height="32" fill="#ff1400"/>
<rect x="828" y="151" width="3" height="19" fill="#ff1400"/>
<rect x="829" y="152" width="1" height="17" fill="#ff4500"/>
<rect x="833" y="148" width="1" height="29" fill="#32cd32"/>
<rect x="832" y="151" width="3" height="7" fill="#32cd32"/>
<rect x="837" y="111" width="1" height="62" fill="#ff1400"/>
<rect x="836" y="145" width="3" height="13" fill="#ff1400"/>
<rect x="837" y="146" width="1" height="11" fill="#ff4500"/>
<rect x="841" y="120" width="1" height="40" fill="#32cd32"/>
<rect x="840" y="145" width="3" height="5" fill="#32cd32"/>
<rect x="845" y="149" width="1" height="8" fill="#ff1400"/>
<rect x="844" y="154" width="3" height="3" fill="#ff1400"/>
<rect x="845" y="155" width="1" height="1" fill="#ff4500"/>
<rect x="849" y="133" width="1" height="30" fill="#32cd32"/>
<rect x="848" y="154" width="3" height="3" fill="#32cd32"/>
<rect x="853" y="132" width="1" height="41" fill="#ff1400"/>
<rect x="852" y="148" width="3" height="9" fill="#ff1400"/>
<rect x="853" y="149" width="1" height="7" fill="#ff4500"/>
<rect x="857" y="143" width="1" height="48" fill="#32cd32"/>
<rect x="856" y="147" width="3" height="33" fill="#32cd32"/>
<rect x="861" y="170" width="1" height="36" fill="#32cd32"/>
<rect x="860" y="179" width="3" height="18" fill="#32cd32"/>
<rect x="865" y="179" width="1" height="24" fill="#ff1400"/>
<rect x="864" y="186" width="3" height="11" fill="#ff1400"/>
<rect x="865" y="187" width="1" height="9" fill="#ff4500"/>
<rect x="869" y="183" width="1" height="7" fill="#32cd32"/>
<rect x="868" y="184" width="3" height="4" fill="#32cd32"/>
<rect x="873" y="182" width="1" height="57" fill="#32cd32"/>
<rect x="872" y="187" width="3" height="44" fill="#32cd32"/>
<rect x="877" y="171" width="1" height="67" fill="#ff1400"/>
<rect x="876" y="182" width="3" height="49" fill="#ff1400"/>
<rect x="877" y="183" width="1" height="47" fill="#ff4500"/>
<rect x="881" y="179" width="1" height="44" fill="#32cd32"/>
<rect x="880" y="182" width="3" height="35" fill="#32cd32"/>
<rect x="885" y="119" width="1" height="101" fill="#ff1400"/>
<rect x="884" y="145" width="3" height="72" fill="#ff1400"/>
<rect x="885" y="146" width="1" height="70" fill="#ff4500"/>
<rect x="889" y="123" width="1" height="37" fill="#ff1400"/>
<rect x="888" y="140" width="3" height="7" fill="#ff1400"/>
<rect x="889" y="141" width="1" height="5" fill="#ff4500"/>
<rect x="893" y="130" width="1" height="22" fill="#ff1400"/>
<rect x="892" y="137" width="3" height="5" fill="#ff1400"/>
<rect x="893" y="138" width="1" height="3" fill="#ff4500"/>
<rect x="897" y="128" width="1" height="96" fill="#32cd32"/>
<rect x="896" y="137" width="3" height="80" fill="#32cd32"/>
<rect x="901" y="190" width="1" height="49" fill="#ff1400"/>
<rect x="900" y="207" width="3" height="10" fill="#ff1400"/>
<rect x="901" y="208" width="1" height="8" fill="#ff4500"/>
<rect x="905" y="161" width="1" height="64" fill="#ff1400"/>
<rect x="904" y="190" width="3" height="18" fill="#ff1400"/>
<rect x="905" y="191" width="1" height="16" fill="#ff4500"/>
<rect x="909" y="181" width="1" height="41" fill="#32cd32"/>
<rect x="908" y="190" width="3" height="24" fill="#32cd32"/>
<rect x="913" y="186" width="1" height="38" fill="#ff1400"/>
<rect x="912" y="210" width="3" height="4" fill="#ff1400"/>
<rect x="913" y="211" width="1" height="2" fill="#ff4500"/>
<rect x="917" y="192" width="1" height="32" fill="#ff1400"/>
<rect x="916" y="193" width="3" height="31" fill="#ff1400"/>
<rect x="917" y="194" width="1" height="29" fill="#ff4500"/>
<rect x="921" y="133" width="1" height="68" fill="#ff1400"/>
<rect x="920" y="148" width="3" height="46" fill="#ff1400"/>
<rect x="921" y="149" width="1" height="44" fill="#ff4500"/>
<rect x="925" y="103" width="1" height="51" fill="#ff1400"/>
<rect x="924" y="108" width="3" height="42" fill="#ff1400"/>
<rect x="925" y="109" width="1" height="40" fill="#ff4500"/>
</g>
<path d="M5 382h1v1h-1zM6 383h1v1h-1zM7 384h1v1h-1zM8 384h1v1h-1zM9 385h1v1h-1zM10 385h1v1h-1zM11 385h1v1h-1zM12 385h1v1h-1zM13 385h1v1h-1zM14 384h1v1h-1zM15 384h1v1h-1zM16 384h1v1h-1zM17 383h1v1h-1zM18 381h1v2h-1zM19 378h1v3h-1zM20 373h1v5h-1zM21 368h1v5h-1zM22 363h1v5h-1zM23 357h1v6h-1zM24 351h1v6h-1zM25 347h1v4h-1zM26 345h1v2h-1zM27 342h1v3h-1zM28 339h1v3h-1zM29 337h1v2h-1zM30 334h1v3h-1zM31 332h1v2h-1zM32 329h1v3h-1zM33 325h1v4h-1zM34 322h1v3h-1zM35 319h1v3h-1zM36 315h1v4h-1zM37 312h1v3h-1zM38 308h1v4h-1zM39 305h1v3h-1zM40 301h1v4h-1zM41 298h1v3h-1zM42 295h1v3h-1zM43 291h1v4h-1zM44 288h1v3h-1zM45 286h1v2h-1zM46 284h1v2h-1zM47 282h1v2h-1zM48 279h1v3h-1zM49 276h1v3h-1zM50 272h1v4h-1zM51 268h1v4h-1zM52 263h1v5h-1zM53 258h1v5h-1zM54 253h1v5h-1zM55 248h1v5h-1zM56 243h1v5h-1zM57 239h1v4h-1zM58 236h1v3h-1zM59 233h1v3h-1zM60 229h1v4h-1zM61 226h1v3h-1zM62 223h1v3h-1zM63 220h1v3h-1zM64 216h1v4h-1zM65 213h1v3h-1zM66 210h1v3h-1zM67 207h1v3h-1zM68 204h1v3h-1zM69 201h1v3h-1zM70 199h1v2h-1zM71 198h1v1h-1zM72 196h1v2h-1zM73 195h1v1h-1zM74 194h1v1h-1zM75 194h1v1h-1zM76 193h1v1h-1zM77 193h1v1h-1zM78 193h1v1h-1zM79 192h1v1h-1zM80 192h1v1h-1zM81 191h1v1h-1zM82 191h1v1h-1zM83 190h1v1h-1zM84 190h1v1h-1zM85 189h1v1h-1zM86 188h1v1h-1zM87 188h1v1h-1zM88 187h1v1h-1zM89 187h1v1h-1zM90 186h1v1h-1zM91 186h1v1h-1zM92 187h1v1h-1zM93 187h1v1h-1zM94 188h1v1h-1zM95 188h1v1h-1zM96 189h1v1h-1zM97 190h1v1h-1zM98 190h1v1h-1zM99 191h1v1h-1zM100 192h1v1h-1zM101 192h1v1h-1zM102 193h1v1h-1zM103 193h1v1h-1zM104 193h1v1h-1zM105 193h1v1h-1zM106 194h1v1h-1zM107 194h1v1h-1zM108 194h1v1h-1zM109 194h1v1h-1zM110 194h1v1h-1zM111 194h1v1h-1zM112 193h1v1h-1zM113 193h1v1h-1zM114 193h1v1h-1zM115 193h1v1h-1zM116 194h1v1h-1zM117 195h1v1h-1zM118 195h1v1h-1zM119 196h1v1h-1zM120 197h1v1h-1zM121 198h1v2h-1zM122 200h1v1h-1zM123 201h1v1h-1zM124 202h1v2h-1zM125 204h1v1h-1zM126 205h1v2h-1zM127 207h1v1h-1zM128 207h1v1h-1zM129 207h1v1h-1zM130 207h1v1h-1zM131 208h1v1h-1zM132 208h1v1h-1zM133 208h1v1h-1zM134 208h1v1h-1zM135 209h1v1h-1zM136 209h1v1h-1zM137 210h1v1h-1zM138 210h1v1h-1zM139 211h1v1h-1zM140 212h1v1h-1zM141 212h1v1h-1zM142 213h1v1h-1zM143 214h1v1h-1zM144 215h1v1h-1zM145 216h1v1h-1zM146 215h1v1h-1zM147 215h1v1h-1zM148 214h1v1h-1zM149 214h1v1h-1zM150 213h1v1h-1zM151 213h1v1h-1zM152 213h1v1h-1zM153 213h1v1h-1zM154 213h1v1h-1zM155 213h1v1h-1zM156 213h1v1h-1zM157 213h1v1h-1zM158 214h1v1h-1zM159 215h1v1h-1zM160 216h1v1h-1zM161 217h1v1h-1zM162 218h1v1h-1zM163 219h1v1h-1zM164 220h1v1h-1zM165 221h1v2h-1zM166 223h1v2h-1zM167 225h1v2h-1zM168 227h1v1h-1zM169 228h1v2h-1zM170 230h1v2h-1zM171 232h1v2h-1zM172 234h1v2h-1zM173 236h1v1h-1zM174 237h1v3h-1zM175 240h1v1h-1zM176 241h1v3h-1zM177 244h1v1h-1zM178 245h1v3h-1zM179 248h1v1h-1zM180 249h1v3h-1zM181 252h1v2h-1zM182 254h1v2h-1zM183 256h1v2h-1zM184 258h1v2h-1zM185 260h1v2h-1zM186 262h1v2h-1zM187 264h1v2h-1zM188 266h1v2h-1zM189 268h1v2h-1zM190 270h1v1h-1zM191 270h1v1h-1zM192 271h1v1h-1zM193 271h1v1h-1zM194 272h1v1h-1zM195 272h1v1h-1zM196 272h1v1h-1zM197 272h1v1h-1zM198 273h1v1h-1zM199 273h1v1h-1zM200 273h1v1h-1zM201 273h1v1h-1zM202 273h1v1h-1zM203 272h1v1h-1zM204 272h1v1h-1zM205 272h1v1h-1zM206 272h1v1h-1zM207 270h1v2h-1zM208 269h1v1h-1zM209 268h1v1h-1zM210 266h1v2h-1zM211 265h1v1h-1zM212 263h1v2h-1zM213 262h1v1h-1zM214 261h1v1h-1zM215 260h1v1h-1zM216 259h1v1h-1zM217 258h1v1h-1zM218 257h1v1h-1zM219 256h1v1h-1zM220 255h1v1h-1zM221 254h1v1h-1zM222 253h1v1h-1zM223 252h1v1h-1zM224 251h1v1h-1zM225 250h1v1h-1zM226 249h1v1h-1zM227 247h1v2h-1zM228 245h1v2h-1zM229 242h1v3h-1zM230 240h1v2h-1zM231 237h1v3h-1zM232 235h1v2h-1zM233 233h1v2h-1zM234 231h1v2h-1zM235 229h1v2h-1zM236 227h1v2h-1zM237 225h1v2h-1zM238 223h1v2h-1zM239 221h1v2h-1zM240 220h1v1h-1zM241 219h1v1h-1zM242 218h1v1h-1zM243 217h1v1h-1zM244 216h1v1h-1zM245 215h1v1h-1zM246 214h1v1h-1zM247 214h1v1h-1zM248 215h1v1h-1zM249 215h1v1h-1zM250 215h1v1h-1zM251 216h1v1h-1zM252 216h1v1h-1zM253 217h1v1h-1zM254 218h1v1h-1zM255 219h1v1h-1zM256 219h1v1h-1zM257 220h1v1h-1zM258 221h1v1h-1zM259 222h1v1h-1zM260 223h1v2h-1zM261 225h1v1h-1zM262 226h1v2h-1zM263 228h1v2h-1zM264 230h1v1h-1zM265 231h1v2h-1zM266 233h1v2h-1zM267 235h1v1h-1zM268 236h1v1h-1zM269 236h1v1h-1zM270 237h1v1h-1zM271 237h1v1h-1zM272 237h1v1h-1zM273 237h1v1h-1zM274 236h1v1h-1zM275 236h1v1h-1zM276 236h1v1h-1zM277 236h1v1h-1zM278 236h1v1h-1zM279 236h1v1h-1zM280 236h1v1h-1zM281 236h1v1h-1zM282 236h1v1h-1zM283 237h1v1h-1zM284 237h1v1h-1zM285 237h1v1h-1zM286 237h1v1h-1zM287 237h1v1h-1zM288 238h1v1h-1zM289 238h1v1h-1zM290 239h1v1h-1zM291 240h1v1h-1zM292 240h1v1h-1zM293 241h1v1h-1zM294 242h1v1h-1zM295 242h1v1h-1zM296 243h1v1h-1zM297 243h1v1h-1zM298 244h1v1h-1zM299 243h1v1h-1zM300 241h1v2h-1zM301 240h1v1h-1zM302 239h1v1h-1zM303 238h1v1h-1zM304 237h1v1h-1zM305 236h1v1h-1zM306 235h1v1h-1zM307 234h1v1h-1zM308 234h1v1h-1zM309 233h1v1h-1zM310 233h1v1h-1zM311 233h1v1h-1zM312 233h1v1h-1zM313 232h1v1h-1zM314 232h1v1h-1zM315 232h1v1h-1zM316 232h1v1h-1zM317 231h1v1h-1zM318 230h1v2h-1zM319 229h1v1h-1zM320 226h1v3h-1zM321 225h1v1h-1zM322 223h1v2h-1zM323 222h1v1h-1zM324 221h1v1h-1zM325 220h1v1h-1zM326 219h1v1h-1zM327 218h1v1h-1zM328 217h1v1h-1zM329 216h1v1h-1zM330 213h1v3h-1zM331 212h1v1h-1zM332 209h1v3h-1zM333 208h1v1h-1zM334 205h1v3h-1zM335 203h1v2h-1zM336 200h1v3h-1zM337 198h1v2h-1zM338 196h1v2h-1zM339 193h1v3h-1zM340 191h1v2h-1zM341 189h1v2h-1zM342 186h1v3h-1zM343 184h1v2h-1zM344 182h1v2h-1zM345 180h1v2h-1zM346 179h1v1h-1zM347 177h1v2h-1zM348 176h1v1h-1zM349 174h1v2h-1zM350 173h1v1h-1zM351 171h1v2h-1zM352 169h1v2h-1zM353 167h1v2h-1zM354 166h1v1h-1zM355 166h1v1h-1zM356 165h1v1h-1zM357 164h1v1h-1zM358 164h1v1h-1zM359 164h1v1h-1zM360 163h1v1h-1zM361 162h1v1h-1zM362 161h1v1h-1zM363 160h1v1h-1zM364 159h1v1h-1zM365 158h1v1h-1zM366 157h1v1h-1zM367 156h1v1h-1zM368 154h1v2h-1zM369 152h1v2h-1zM370 150h1v2h-1zM371 149h1v1h-1zM372 147h1v2h-1zM373 145h1v2h-1zM374 143h1v2h-1zM375 142h1v1h-1zM376 139h1v3h-1zM377 138h1v1h-1zM378 135h1v3h-1zM379 134h1v1h-1zM380 131h1v3h-1zM381 130h1v1h-1zM382 129h1v1h-1zM383 128h1v1h-1zM384 126h1v2h-1zM385 125h1v1h-1zM386 124h1v1h-1zM387 123h1v1h-1zM388 123h1v1h-1zM389 122h1v1h-1zM390 123h1v1h-1zM391 124h1v1h-1zM392 125h1v1h-1zM393 126h1v1h-1zM394 126h1v1h-1zM395 127h1v1h-1zM396 128h1v1h-1zM397 128h1v1h-1zM398 129h1v1h-1zM399 129h1v1h-1zM400 130h1v1h-1zM401 129h1v1h-1zM402 129h1v1h-1zM403 128h1v1h-1zM404 128h1v1h-1zM405 127h1v1h-1zM406 127h1v1h-1zM407 126h1v1h-1zM408 126h1v1h-1zM409 125h1v1h-1zM410 125h1v1h-1zM411 124h1v1h-1zM412 124h1v1h-1zM413 124h1v1h-1zM414 123h1v1h-1zM415 123h1v1h-1zM416 122h1v1h-1zM417 122h1v1h-1zM418 122h1v1h-1zM419 121h1v1h-1zM420 120h1v1h-1zM421 120h1v1h-1zM422 120h1v1h-1zM423 120h1v1h-1zM424 120h1v1h-1zM425 121h1v1h-1zM426 121h1v1h-1zM427 121h1v1h-1zM428 122h1v1h-1zM429 123h1v1h-1zM430 124h1v2h-1zM431 126h1v1h-1zM432 127h1v1h-1zM433 128h1v2h-1zM434 130h1v1h-1zM435 131h1v2h-1zM436 133h1v1h-1zM437 134h1v1h-1zM438 135h1v2h-1zM439 137h1v1h-1zM440 138h1v1h-1zM441 139h1v2h-1zM442 141h1v1h-1zM443 142h1v1h-1zM444 143h1v1h-1zM445 144h1v1h-1zM446 145h1v1h-1zM447 146h1v1h-1zM448 147h1v1h-1zM449 148h1v1h-1zM450 149h1v2h-1zM451 151h1v1h-1zM452 152h1v3h-1zM453 155h1v1h-1zM454 156h1v3h-1zM455 159h1v1h-1zM456 160h1v2h-1zM457 162h1v1h-1zM458 163h1v2h-1zM459 165h1v2h-1zM460 167h1v1h-1zM461 168h1v1h-1zM462 169h1v1h-1zM463 170h1v1h-1zM464 171h1v1h-1zM465 172h1v1h-1zM466 173h1v1h-1zM467 174h1v1h-1zM468 175h1v2h-1zM469 177h1v1h-1zM470 178h1v1h-1zM471 179h1v2h-1zM472 181h1v2h-1zM473 183h1v1h-1zM474 184h1v3h-1zM475 187h1v1h-1zM476 188h1v3h-1zM477 191h1v1h-1zM478 192h1v2h-1zM479 194h1v2h-1zM480 196h1v1h-1zM481 197h1v2h-1zM482 199h1v1h-1zM483 200h1v2h-1zM484 202h1v2h-1zM485 204h1v1h-1zM486 205h1v2h-1zM487 207h1v1h-1zM488 208h1v2h-1zM489 210h1v2h-1zM490 212h1v1h-1zM491 213h1v2h-1zM492 215h1v1h-1zM493 216h1v2h-1zM494 218h1v2h-1zM495 220h1v1h-1zM496 221h1v2h-1zM497 223h1v2h-1zM498 225h1v2h-1zM499 227h1v1h-1zM500 228h1v2h-1zM501 230h1v1h-1zM502 231h1v2h-1zM503 233h1v1h-1zM504 234h1v2h-1zM505 236h1v1h-1zM506 237h1v1h-1zM507 238h1v1h-1zM508 239h1v1h-1zM509 239h1v1h-1zM510 240h1v1h-1zM511 241h1v1h-1zM512 242h1v1h-1zM513 242h1v1h-1zM514 243h1v1h-1zM515 243h1v1h-1zM516 244h1v1h-1zM517 244h1v1h-1zM518 245h1v1h-1zM519 245h1v1h-1zM520 245h1v1h-1zM521 245h1v1h-1zM522 246h1v1h-1zM523 246h1v1h-1zM524 246h1v1h-1zM525 246h1v1h-1zM526 246h1v1h-1zM527 245h1v1h-1zM528 245h1v1h-1zM529 244h1v1h-1zM530 244h1v1h-1zM531 242h1v2h-1zM532 240h1v2h-1zM533 239h1v1h-1zM534 237h1v2h-1zM535 235h1v2h-1zM536 233h1v2h-1zM537 231h1v2h-1zM538 228h1v3h-1zM539 226h1v2h-1zM540 223h1v3h-1zM541 220h1v3h-1zM542 217h1v3h-1zM543 216h1v1h-1zM544 213h1v3h-1zM545 212h1v1h-1zM546 209h1v3h-1zM547 207h1v2h-1zM548 205h1v2h-1zM549 203h1v2h-1zM550 201h1v2h-1zM551 199h1v2h-1zM552 196h1v3h-1zM553 193h1v3h-1zM554 190h1v3h-1zM555 187h1v3h-1zM556 184h1v3h-1zM557 181h1v3h-1zM558 178h1v3h-1zM559 176h1v2h-1zM560 173h1v3h-1zM561 170h1v3h-1zM562 167h1v3h-1zM563 164h1v3h-1zM564 160h1v4h-1zM565 157h1v3h-1zM566 154h1v3h-1zM567 151h1v3h-1zM568 147h1v4h-1zM569 144h1v3h-1zM570 140h1v4h-1zM571 136h1v4h-1zM572 134h1v2h-1zM573 133h1v1h-1zM574 132h1v1h-1zM575 131h1v1h-1zM576 130h1v1h-1zM577 130h1v1h-1zM578 129h1v1h-1zM579 129h1v1h-1zM580 128h1v1h-1zM581 128h1v1h-1zM582 127h1v1h-1zM583 127h1v1h-1zM584 126h1v1h-1zM585 126h1v1h-1zM586 125h1v1h-1zM587 125h1v1h-1zM588 126h1v1h-1zM589 126h1v1h-1zM590 127h1v1h-1zM591 127h1v1h-1zM592 128h1v1h-1zM593 129h1v2h-1zM594 131h1v1h-1zM595 132h1v1h-1zM596 133h1v2h-1zM597 135h1v1h-1zM598 136h1v2h-1zM599 138h1v2h-1zM600 140h1v1h-1zM601 141h1v2h-1zM602 143h1v1h-1zM603 144h1v1h-1zM604 145h1v2h-1zM605 147h1v1h-1zM606 147h1v1h-1zM607 147h1v1h-1zM608 148h1v1h-1zM609 148h1v1h-1zM610 148h1v1h-1zM611 149h1v2h-1zM612 151h1v1h-1zM613 152h1v1h-1zM614 153h1v2h-1zM615 155h1v1h-1zM616 156h1v2h-1zM617 158h1v1h-1zM618 159h1v2h-1zM619 161h1v2h-1zM620 163h1v2h-1zM621 165h1v1h-1zM622 166h1v3h-1zM623 169h1v1h-1zM624 170h1v3h-1zM625 173h1v2h-1zM626 175h1v2h-1zM627 177h1v2h-1zM628 179h1v2h-1zM629 181h1v2h-1zM630 182h1v1h-1zM631 182h1v1h-1zM632 182h1v1h-1zM633 183h1v1h-1zM634 183h1v1h-1zM635 183h1v1h-1zM636 183h1v1h-1zM637 182h1v1h-1zM638 182h1v1h-1zM639 182h1v1h-1zM640 182h1v1h-1zM641 182h1v1h-1zM642 181h1v1h-1zM643 181h1v1h-1zM644 181h1v1h-1zM645 180h1v1h-1zM646 180h1v1h-1zM647 179h1v1h-1zM648 179h1v1h-1zM649 178h1v1h-1zM650 178h1v1h-1zM651 177h1v1h-1zM652 177h1v1h-1zM653 176h1v1h-1zM654 176h1v1h-1zM655 175h1v1h-1zM656 175h1v1h-1zM657 174h1v1h-1zM658 174h1v1h-1zM659 174h1v1h-1zM660 175h1v1h-1zM661 175h1v1h-1zM662 175h1v1h-1zM663 176h1v1h-1zM664 176h1v1h-1zM665 176h1v1h-1zM666 177h1v1h-1zM667 177h1v1h-1zM668 178h1v1h-1zM669 178h1v1h-1zM670 179h1v1h-1zM671 179h1v1h-1zM672 180h1v1h-1zM673 180h1v1h-1zM674 181h1v1h-1zM675 181h1v1h-1zM676 182h1v1h-1zM677 182h1v1h-1zM678 183h1v1h-1zM679 183h1v1h-1zM680 184h1v1h-1zM681 185h1v1h-1zM682 186h1v1h-1zM683 186h1v1h-1zM684 187h1v1h-1zM685 188h1v1h-1zM686 189h1v1h-1zM687 190h1v1h-1zM688 191h1v2h-1zM689 193h1v1h-1zM690 194h1v2h-1zM691 196h1v1h-1zM692 197h1v3h-1zM693 200h1v1h-1zM694 201h1v3h-1zM695 204h1v1h-1zM696 205h1v1h-1zM697 206h1v1h-1zM698 207h1v2h-1zM699 209h1v1h-1zM700 210h1v1h-1zM701 211h1v1h-1zM702 212h1v1h-1zM703 212h1v1h-1zM704 213h1v1h-1zM705 214h1v2h-1zM706 216h1v1h-1zM707 217h1v1h-1zM708 218h1v2h-1zM709 220h1v1h-1zM710 220h1v1h-1zM711 221h1v1h-1zM712 221h1v1h-1zM713 222h1v1h-1zM714 222h1v1h-1zM715 222h1v1h-1zM716 223h1v1h-1zM717 223h1v1h-1zM718 223h1v1h-1zM719 223h1v1h-1zM720 223h1v1h-1zM721 223h1v1h-1zM722 223h1v1h-1zM723 223h1v1h-1zM724 223h1v1h-1zM725 223h1v1h-1zM726 222h1v1h-1zM727 221h1v1h-1zM728 220h1v1h-1zM729 219h1v1h-1zM730 218h1v1h-1zM731 217h1v1h-1zM732 216h1v1h-1zM733 216h1v1h-1zM734 215h1v1h-1zM735 216h1v1h-1zM736 216h1v1h-1zM737 217h1v1h-1zM738 218h1v1h-1zM739 219h1v1h-1zM740 219h1v1h-1zM741 220h1v1h-1zM742 221h1v1h-1zM743 221h1v1h-1zM744 221h1v1h-1zM745 221h1v1h-1zM746 220h1v1h-1zM747 220h1v1h-1zM748 220h1v1h-1zM749 220h1v1h-1zM750 220h1v1h-1zM751 220h1v1h-1zM752 219h1v1h-1zM753 219h1v1h-1zM754 218h1v1h-1zM755 218h1v1h-1zM756 217h1v1h-1zM757 217h1v1h-1zM758 217h1v1h-1zM759 217h1v1h-1zM760 217h1v1h-1zM761 217h1v1h-1zM762 218h1v1h-1zM763 218h1v1h-1zM764 218h1v1h-1zM765 218h1v1h-1zM766 218h1v1h-1zM767 218h1v1h-1zM768 219h1v1h-1zM769 219h1v1h-1zM770 220h1v1h-1zM771 220h1v1h-1zM772 221h1v3h-1zM773 224h1v1h-1zM774 225h1v2h-1zM775 227h1v1h-1zM776 228h1v1h-1zM777 229h1v1h-1zM778 229h1v1h-1zM779 229h1v1h-1zM780 230h1v1h-1zM781 230h1v1h-1zM782 230h1v1h-1zM783 230h1v1h-1zM784 230h1v1h-1zM785 231h1v1h-1zM786 231h1v1h-1zM787 230h1v1h-1zM788 229h1v1h-1zM789 228h1v1h-1zM790 227h1v1h-1zM791 225h1v2h-1zM792 221h1v4h-1zM793 218h1v3h-1zM794 214h1v4h-1zM795 211h1v3h-1zM796 209h1v2h-1zM797 206h1v3h-1zM798 203h1v3h-1zM799 201h1v2h-1zM800 199h1v2h-1zM801 198h1v1h-1zM802 197h1v1h-1zM803 196h1v1h-1zM804 195h1v1h-1zM805 194h1v1h-1zM806 193h1v1h-1zM807 192h1v1h-1zM808 191h1v1h-1zM809 190h1v1h-1zM810 189h1v1h-1zM811 188h1v1h-1zM812 187h1v1h-1zM813 186h1v1h-1zM814 185h1v1h-1zM815 184h1v1h-1zM816 182h1v2h-1zM817 181h1v1h-1zM818 179h1v2h-1zM819 177h1v2h-1zM820 176h1v1h-1zM821 174h1v2h-1zM822 173h1v1h-1zM823 172h1v1h-1zM824 170h1v2h-1zM825 169h1v1h-1zM826 168h1v1h-1zM827 166h1v2h-1zM828 165h1v1h-1zM829 164h1v1h-1zM830 162h1v2h-1zM831 160h1v2h-1zM832 158h1v2h-1zM833 156h1v2h-1zM834 154h1v2h-1zM835 153h1v1h-1zM836 152h1v1h-1zM837 150h1v2h-1zM838 149h1v1h-1zM839 148h1v1h-1zM840 149h1v1h-1zM841 150h1v1h-1zM842 150h1v1h-1zM843 151h1v1h-1zM844 152h1v1h-1zM845 153h1v1h-1zM846 154h1v1h-1zM847 155h1v1h-1zM848 156h1v1h-1zM849 157h1v1h-1zM850 158h1v1h-1zM851 159h1v1h-1zM852 160h1v1h-1zM853 160h1v1h-1zM854 161h1v1h-1zM855 162h1v1h-1zM856 162h1v1h-1zM857 163h1v1h-1zM858 163h1v1h-1zM859 164h1v1h-1zM860 164h1v1h-1zM861 164h1v1h-1zM862 164h1v1h-1zM863 164h1v1h-1zM864 164h1v1h-1zM865 163h1v1h-1zM866 163h1v1h-1zM867 163h1v1h-1zM868 163h1v1h-1zM869 163h1v1h-1zM870 164h1v1h-1zM871 165h1v1h-1zM872 166h1v1h-1zM873 167h1v1h-1zM874 168h1v1h-1zM875 169h1v1h-1zM876 170h1v1h-1zM877 171h1v1h-1zM878 172h1v1h-1zM879 173h1v1h-1zM880 173h1v1h-1zM881 173h1v1h-1zM882 174h1v1h-1zM883 174h1v1h-1zM884 174h1v1h-1zM885 174h1v1h-1zM886 173h1v1h-1zM887 173h1v1h-1zM888 173h1v1h-1zM889 172h1v1h-1zM890 172h1v1h-1zM891 172h1v1h-1zM892 173h1v1h-1zM893 173h1v1h-1zM894 174h1v1h-1zM895 174h1v1h-1zM896 175h1v1h-1zM897 176h1v1h-1zM898 177h1v1h-1zM899 178h1v1h-1zM900 179h1v1h-1zM901 180h1v1h-1zM902 180h1v1h-1zM903 181h1v1h-1zM904 182h1v1h-1zM905 183h1v1h-1zM906 183h1v1h-1zM907 184h1v1h-1zM908 185h1v1h-1zM909 186h1v1h-1zM910 187h1v1h-1zM911 187h1v1h-1zM912 188h1v1h-1zM913 189h1v1h-1zM914 190h1v1h-1zM915 190h1v1h-1zM916 189h1v1h-1zM917 189h1v1h-1zM918 189h1v1h-1zM919 188h1v1h-1zM920 188h1v1h-1zM921 187h1v1h-1zM922 185h1v2h-1zM923 184h1v1h-1zM924 183h1v1h-1zM925 182h1v1h-1z" fill="#ff0000" shape-rendering="crispEdges"/>
<path d="M5 383h1v1h-1zM6 383h1v1h-1zM7 383h1v1h-1zM8 383h1v1h-1zM9 384h1v1h-1zM10 384h1v1h-1zM11 384h1v1h-1zM12 384h1v1h-1zM13 384h1v1h-1zM14 382h1v2h-1zM15 381h1v1h-1zM16 380h1v1h-1zM17 379h1v1h-1zM18 377h1v2h-1zM19 375h1v2h-1zM20 372h1v3h-1zM21 370h1v2h-1zM22 367h1v3h-1zM23 364h1v3h-1zM24 362h1v2h-1zM25 359h1v3h-1zM26 357h1v2h-1zM27 354h1v3h-1zM28 352h1v2h-1zM29 350h1v2h-1zM30 348h1v2h-1zM31 346h1v2h-1zM32 344h1v2h-1zM33 342h1v2h-1zM34 340h1v2h-1zM35 338h1v2h-1zM36 336h1v2h-1zM37 334h1v2h-1zM38 332h1v2h-1zM39 330h1v2h-1zM40 328h1v2h-1zM41 326h1v2h-1zM42 324h1v2h-1zM43 322h1v2h-1zM44 320h1v2h-1zM45 318h1v2h-1zM46 316h1v2h-1zM47 314h1v2h-1zM48 312h1v2h-1zM49 310h1v2h-1zM50 308h1v2h-1zM51 306h1v2h-1zM52 304h1v2h-1zM53 302h1v2h-1zM54 300h1v2h-1zM55 298h1v2h-1zM56 295h1v3h-1zM57 294h1v1h-1zM58 291h1v3h-1zM59 289h1v2h-1zM60 287h1v2h-1zM61 284h1v3h-1zM62 282h1v2h-1zM63 279h1v3h-1zM64 277h1v2h-1zM65 274h1v3h-1zM66 272h1v2h-1zM67 269h1v3h-1zM68 265h1v4h-1zM69 262h1v3h-1zM70 259h1v3h-1zM71 257h1v2h-1zM72 254h1v3h-1zM73 252h1v2h-1zM74 249h1v3h-1zM75 247h1v2h-1zM76 244h1v3h-1zM77 242h1v2h-1zM78 239h1v3h-1zM79 237h1v2h-1zM80 234h1v3h-1zM81 232h1v2h-1zM82 229h1v3h-1zM83 227h1v2h-1zM84 224h1v3h-1zM85 222h1v2h-1zM86 219h1v3h-1zM87 216h1v3h-1zM88 214h1v2h-1zM89 211h1v3h-1zM90 209h1v2h-1zM91 207h1v2h-1zM92 205h1v2h-1zM93 204h1v1h-1zM94 202h1v2h-1zM95 200h1v2h-1zM96 199h1v1h-1zM97 198h1v1h-1zM98 198h1v1h-1zM99 197h1v1h-1zM100 196h1v1h-1zM101 196h1v1h-1zM102 196h1v1h-1zM103 196h1v1h-1zM104 197h1v1h-1zM105 197h1v1h-1zM106 197h1v1h-1zM107 197h1v1h-1zM108 197h1v1h-1zM109 198h1v1h-1zM110 198h1v1h-1zM111 199h1v1h-1zM112 199h1v1h-1zM113 199h1v1h-1zM114 200h1v1h-1zM115 200h1v1h-1zM116 201h1v1h-1zM117 201h1v1h-1zM118 201h1v1h-1zM119 201h1v1h-1zM120 201h1v1h-1zM121 200h1v1h-1zM122 200h1v1h-1zM123 200h1v1h-1zM124 200h1v1h-1zM125 200h1v1h-1zM126 200h1v1h-1zM127 200h1v1h-1zM128 200h1v1h-1zM129 200h1v1h-1zM130 199h1v1h-1zM131 199h1v1h-1zM132 199h1v1h-1zM133 199h1v1h-1zM134 199h1v1h-1zM135 199h1v1h-1zM136 199h1v1h-1zM137 199h1v1h-1zM138 199h1v1h-1zM139 199h1v1h-1zM140 198h1v1h-1zM141 198h1v1h-1zM142 198h1v1h-1zM143 198h1v1h-1zM144 198h1v1h-1zM145 198h1v1h-1zM146 199h1v1h-1zM147 199h1v1h-1zM148 200h1v1h-1zM149 200h1v1h-1zM150 201h1v1h-1zM151 202h1v1h-1zM152 203h1v1h-1zM153 204h1v1h-1zM154 204h1v1h-1zM155 205h1v1h-1zM156 206h1v1h-1zM157 207h1v1h-1zM158 208h1v1h-1zM159 209h1v1h-1zM160 210h1v2h-1zM161 212h1v1h-1zM162 213h1v2h-1zM163 215h1v1h-1zM164 216h1v3h-1zM165 219h1v1h-1zM166 220h1v3h-1zM167 223h1v1h-1zM168 224h1v2h-1zM169 226h1v2h-1zM170 228h1v2h-1zM171 230h1v2h-1zM172 232h1v2h-1zM173 234h1v2h-1zM174 236h1v1h-1zM175 237h1v1h-1zM176 238h1v1h-1zM177 239h1v1h-1zM178 240h1v1h-1zM179 241h1v1h-1zM180 242h1v1h-1zM181 243h1v1h-1zM182 244h1v1h-1zM183 245h1v1h-1zM184 245h1v1h-1zM185 246h1v1h-1zM186 247h1v1h-1zM187 247h1v1h-1zM188 248h1v1h-1zM189 249h1v1h-1zM190 249h1v1h-1zM191 250h1v1h-1zM192 250h1v1h-1zM193 250h1v1h-1zM194 251h1v1h-1zM195 251h1v1h-1zM196 251h1v1h-1zM197 251h1v1h-1zM198 250h1v1h-1zM199 250h1v1h-1zM200 250h1v1h-1zM201 250h1v1h-1zM202 249h1v1h-1zM203 249h1v1h-1zM204 249h1v1h-1zM205 249h1v1h-1zM206 248h1v1h-1zM207 248h1v1h-1zM208 248h1v1h-1zM209 247h1v1h-1zM210 246h1v1h-1zM211 246h1v1h-1zM212 246h1v1h-1zM213 245h1v1h-1zM214 245h1v1h-1zM215 246h1v1h-1zM216 246h1v1h-1zM217 247h1v1h-1zM218 247h1v1h-1zM219 248h1v1h-1zM220 248h1v1h-1zM221 248h1v1h-1zM222 249h1v1h-1zM223 249h1v1h-1zM224 250h1v1h-1zM225 250h1v1h-1zM226 251h1v1h-1zM227 251h1v1h-1zM228 252h1v1h-1zM229 252h1v1h-1zM230 252h1v1h-1zM231 253h1v1h-1zM232 254h1v1h-1zM233 254h1v1h-1zM234 254h1v1h-1zM235 253h1v1h-1zM236 253h1v1h-1zM237 253h1v1h-1zM238 253h1v1h-1zM239 252h1v1h-1zM240 252h1v1h-1zM241 251h1v1h-1zM242 251h1v1h-1zM243 250h1v1h-1zM244 250h1v1h-1zM245 249h1v1h-1zM246 249h1v1h-1zM247 248h1v1h-1zM248 247h1v1h-1zM249 247h1v1h-1zM250 246h1v1h-1zM251 245h1v1h-1zM252 245h1v1h-1zM253 244h1v1h-1zM254 243h1v1h-1zM255 242h1v1h-1zM256 240h1v2h-1zM257 239h1v1h-1zM258 238h1v1h-1zM259 237h1v1h-1zM260 236h1v1h-1zM261 235h1v1h-1zM262 235h1v1h-1zM263 234h1v1h-1zM264 233h1v1h-1zM265 232h1v1h-1zM266 232h1v1h-1zM267 231h1v1h-1zM268 230h1v1h-1zM269 230h1v1h-1zM270 229h1v1h-1zM271 228h1v1h-1zM272 227h1v1h-1zM273 226h1v1h-1zM274 226h1v1h-1zM275 225h1v1h-1zM276 225h1v1h-1zM277 225h1v1h-1zM278 225h1v1h-1zM279 226h1v1h-1zM280 226h1v1h-1zM281 226h1v1h-1zM282 226h1v1h-1zM283 227h1v1h-1zM284 228h1v1h-1zM285 228h1v1h-1zM286 229h1v1h-1zM287 230h1v1h-1zM288 231h1v1h-1zM289 232h1v1h-1zM290 232h1v1h-1zM291 233h1v1h-1zM292 234h1v1h-1zM293 235h1v1h-1zM294 235h1v1h-1zM295 236h1v1h-1zM296 236h1v1h-1zM297 237h1v1h-1zM298 237h1v1h-1zM299 237h1v1h-1zM300 237h1v1h-1zM301 237h1v1h-1zM302 237h1v1h-1zM303 236h1v1h-1zM304 235h1v1h-1zM305 234h1v1h-1zM306 234h1v1h-1zM307 233h1v1h-1zM308 233h1v1h-1zM309 233h1v1h-1zM310 232h1v1h-1zM311 232h1v1h-1zM312 232h1v1h-1zM313 231h1v1h-1zM314 231h1v1h-1zM315 231h1v1h-1zM316 231h1v1h-1zM317 230h1v1h-1zM318 230h1v1h-1zM319 230h1v1h-1zM320 230h1v1h-1zM321 230h1v1h-1zM322 229h1v1h-1zM323 229h1v1h-1zM324 229h1v1h-1zM325 229h1v1h-1zM326 228h1v1h-1zM327 228h1v1h-1zM328 228h1v1h-1zM329 227h1v1h-1zM330 227h1v1h-1zM331 225h1v2h-1zM332 223h1v2h-1zM333 221h1v2h-1zM334 220h1v1h-1zM335 218h1v2h-1zM336 216h1v2h-1zM337 214h1v2h-1zM338 212h1v2h-1zM339 210h1v2h-1zM340 208h1v2h-1zM341 207h1v1h-1zM342 205h1v2h-1zM343 204h1v1h-1zM344 202h1v2h-1zM345 201h1v1h-1zM346 200h1v1h-1zM347 198h1v2h-1zM348 197h1v1h-1zM349 195h1v2h-1zM350 194h1v1h-1zM351 193h1v1h-1zM352 192h1v1h-1zM353 191h1v1h-1zM354 190h1v1h-1zM355 189h1v1h-1zM356 188h1v1h-1zM357 187h1v1h-1zM358 186h1v1h-1zM359 185h1v1h-1zM360 184h1v1h-1zM361 183h1v1h-1zM362 182h1v1h-1zM363 181h1v1h-1zM364 180h1v1h-1zM365 179h1v1h-1zM366 178h1v1h-1zM367 177h1v1h-1zM368 176h1v1h-1zM369 175h1v1h-1zM370 174h1v1h-1zM371 173h1v1h-1zM372 171h1v2h-1zM373 169h1v2h-1zM374 167h1v2h-1zM375 165h1v2h-1zM376 163h1v2h-1zM377 161h1v2h-1zM378 159h1v2h-1zM379 157h1v2h-1zM380 155h1v2h-1zM381 154h1v1h-1zM382 153h1v1h-1zM383 152h1v1h-1zM384 151h1v1h-1zM385 150h1v1h-1zM386 149h1v1h-1zM387 148h1v1h-1zM388 147h1v1h-1zM389 146h1v1h-1zM390 145h1v1h-1zM391 144h1v1h-1zM392 143h1v1h-1zM393 142h1v1h-1zM394 142h1v1h-1zM395 141h1v1h-1zM396 140h1v1h-1zM397 139h1v1h-1zM398 137h1v2h-1zM399 136h1v1h-1zM400 135h1v1h-1zM401 134h1v1h-1zM402 133h1v1h-1zM403 132h1v1h-1zM404 131h1v1h-1zM405 130h1v1h-1zM406 130h1v1h-1zM407 129h1v1h-1zM408 128h1v1h-1zM409 128h1v1h-1zM410 128h1v1h-1zM411 127h1v1h-1zM412 126h1v1h-1zM413 126h1v1h-1zM414 126h1v1h-1zM415 126h1v1h-1zM416 126h1v1h-1zM417 126h1v1h-1zM418 125h1v1h-1zM419 125h1v1h-1zM420 125h1v1h-1zM421 125h1v1h-1zM422 125h1v1h-1zM423 126h1v1h-1zM424 127h1v1h-1zM425 128h1v1h-1zM426 128h1v1h-1zM427 129h1v1h-1zM428 130h1v1h-1zM429 130h1v1h-1zM430 130h1v1h-1zM431 131h1v1h-1zM432 131h1v1h-1zM433 131h1v1h-1zM434 131h1v1h-1zM435 132h1v1h-1zM436 132h1v1h-1zM437 132h1v1h-1zM438 132h1v1h-1zM439 132h1v1h-1zM440 132h1v1h-1zM441 132h1v1h-1zM442 133h1v1h-1zM443 133h1v1h-1zM444 133h1v1h-1zM445 133h1v1h-1zM446 134h1v1h-1zM447 134h1v1h-1zM448 135h1v1h-1zM449 136h1v1h-1zM450 137h1v1h-1zM451 138h1v1h-1zM452 138h1v1h-1zM453 139h1v1h-1zM454 140h1v1h-1zM455 141h1v1h-1zM456 142h1v2h-1zM457 144h1v1h-1zM458 145h1v1h-1zM459 146h1v2h-1zM460 148h1v2h-1zM461 150h1v2h-1zM462 152h1v2h-1zM463 154h1v1h-1zM464 155h1v1h-1zM465 156h1v1h-1zM466 157h1v1h-1zM467 158h1v1h-1zM468 159h1v2h-1zM469 161h1v1h-1zM470 162h1v1h-1zM471 163h1v1h-1zM472 164h1v1h-1zM473 165h1v1h-1zM474 166h1v2h-1zM475 168h1v1h-1zM476 169h1v1h-1zM477 170h1v1h-1zM478 171h1v2h-1zM479 173h1v1h-1zM480 174h1v1h-1zM481 175h1v1h-1zM482 176h1v2h-1zM483 178h1v1h-1zM484 179h1v1h-1zM485 180h1v1h-1zM486 181h1v2h-1zM487 183h1v2h-1zM488 185h1v2h-1zM489 187h1v2h-1zM490 189h1v2h-1zM491 191h1v2h-1zM492 193h1v1h-1zM493 194h1v2h-1zM494 196h1v1h-1zM495 197h1v1h-1zM496 198h1v2h-1zM497 200h1v1h-1zM498 201h1v2h-1zM499 203h1v1h-1zM500 204h1v2h-1zM501 206h1v2h-1zM502 208h1v2h-1zM503 210h1v2h-1zM504 212h1v2h-1zM505 214h1v1h-1zM506 215h1v1h-1zM507 216h1v2h-1zM508 218h1v1h-1zM509 219h1v1h-1zM510 220h1v2h-1zM511 222h1v1h-1zM512 223h1v1h-1zM513 224h1v1h-1zM514 225h1v1h-1zM515 226h1v1h-1zM516 226h1v1h-1zM517 227h1v1h-1zM518 228h1v1h-1zM519 229h1v1h-1zM520 230h1v1h-1zM521 230h1v1h-1zM522 230h1v1h-1zM523 231h1v1h-1zM524 232h1v1h-1zM525 232h1v1h-1zM526 232h1v1h-1zM527 232h1v1h-1zM528 232h1v1h-1zM529 232h1v1h-1zM530 232h1v1h-1zM531 232h1v1h-1zM532 232h1v1h-1zM533 232h1v1h-1zM534 231h1v1h-1zM535 231h1v1h-1zM536 230h1v1h-1zM537 229h1v1h-1zM538 229h1v1h-1zM539 228h1v1h-1zM540 226h1v2h-1zM541 224h1v2h-1zM542 223h1v1h-1zM543 221h1v2h-1zM544 219h1v2h-1zM545 218h1v1h-1zM546 217h1v1h-1zM547 217h1v1h-1zM548 216h1v1h-1zM549 215h1v1h-1zM550 214h1v1h-1zM551 214h1v1h-1zM552 213h1v1h-1zM553 211h1v2h-1zM554 210h1v1h-1zM555 209h1v1h-1zM556 207h1v2h-1zM557 206h1v1h-1zM558 204h1v2h-1zM559 203h1v1h-1zM560 200h1v3h-1zM561 199h1v1h-1zM562 196h1v3h-1zM563 195h1v1h-1zM564 192h1v3h-1zM565 191h1v1h-1zM566 189h1v2h-1zM567 187h1v2h-1zM568 185h1v2h-1zM569 183h1v2h-1zM570 181h1v2h-1zM571 180h1v1h-1zM572 177h1v3h-1zM573 176h1v1h-1zM574 174h1v2h-1zM575 173h1v1h-1zM576 173h1v1h-1zM577 172h1v1h-1zM578 171h1v1h-1zM579 170h1v1h-1zM580 170h1v1h-1zM581 169h1v1h-1zM582 168h1v1h-1zM583 166h1v2h-1zM584 165h1v1h-1zM585 164h1v1h-1zM586 163h1v1h-1zM587 161h1v2h-1zM588 160h1v1h-1zM589 159h1v1h-1zM590 158h1v1h-1zM591 157h1v1h-1zM592 156h1v1h-1zM593 155h1v1h-1zM594 154h1v1h-1zM595 154h1v1h-1zM596 153h1v1h-1zM597 152h1v1h-1zM598 152h1v1h-1zM599 152h1v1h-1zM600 151h1v1h-1zM601 151h1v1h-1zM602 150h1v1h-1zM603 150h1v1h-1zM604 150h1v1h-1zM605 150h1v1h-1zM606 149h1v1h-1zM607 149h1v1h-1zM608 148h1v1h-1zM609 148h1v1h-1zM610 148h1v1h-1zM611 147h1v1h-1zM612 146h1v1h-1zM613 146h1v1h-1zM614 146h1v1h-1zM615 146h1v1h-1zM616 146h1v1h-1zM617 146h1v1h-1zM618 146h1v1h-1zM619 146h1v1h-1zM620 146h1v1h-1zM621 147h1v1h-1zM622 148h1v1h-1zM623 149h1v1h-1zM624 150h1v1h-1zM625 151h1v1h-1zM626 152h1v1h-1zM627 152h1v1h-1zM628 153h1v1h-1zM629 153h1v1h-1zM630 154h1v1h-1zM631 154h1v1h-1zM632 155h1v1h-1zM633 156h1v1h-1zM634 156h1v1h-1zM635 156h1v1h-1zM636 157h1v1h-1zM637 158h1v1h-1zM638 158h1v1h-1zM639 159h1v1h-1zM640 160h1v1h-1zM641 161h1v1h-1zM642 162h1v1h-1zM643 163h1v1h-1zM644 164h1v1h-1zM645 165h1v1h-1zM646 166h1v1h-1zM647 167h1v1h-1zM648 168h1v1h-1zM649 169h1v1h-1zM650 170h1v1h-1zM651 171h1v1h-1zM652 172h1v1h-1zM653 173h1v1h-1zM654 174h1v1h-1zM655 175h1v1h-1zM656 176h1v1h-1zM657 176h1v1h-1zM658 177h1v1h-1zM659 177h1v1h-1zM660 178h1v1h-1zM661 178h1v1h-1zM662 179h1v1h-1zM663 179h1v1h-1zM664 180h1v1h-1zM665 180h1v1h-1zM666 181h1v1h-1zM667 181h1v1h-1zM668 181h1v1h-1zM669 182h1v1h-1zM670 182h1v1h-1zM671 182h1v1h-1zM672 182h1v1h-1zM673 182h1v1h-1zM674 183h1v1h-1zM675 183h1v1h-1zM676 183h1v1h-1zM677 183h1v1h-1zM678 183h1v1h-1zM679 183h1v1h-1zM680 183h1v1h-1zM681 184h1v1h-1zM682 184h1v1h-1zM683 184h1v1h-1zM684 184h1v1h-1zM685 184h1v1h-1zM686 184h1v1h-1zM687 184h1v1h-1zM688 185h1v1h-1zM689 186h1v1h-1zM690 187h1v1h-1zM691 188h1v1h-1zM692 189h1v1h-1zM693 190h1v1h-1zM694 191h1v2h-1zM695 193h1v1h-1zM696 194h1v1h-1zM697 195h1v1h-1zM698 196h1v1h-1zM699 196h1v1h-1zM700 197h1v1h-1zM701 198h1v1h-1zM702 199h1v1h-1zM703 199h1v1h-1zM704 200h1v1h-1zM705 200h1v1h-1zM706 201h1v1h-1zM707 202h1v1h-1zM708 202h1v1h-1zM709 202h1v1h-1zM710 203h1v1h-1zM711 204h1v1h-1zM712 204h1v1h-1zM713 204h1v1h-1zM714 204h1v1h-1zM715 205h1v1h-1zM716 205h1v1h-1zM717 205h1v1h-1zM718 206h1v1h-1zM719 206h1v1h-1zM720 206h1v1h-1zM721 207h1v1h-1zM722 208h1v1h-1zM723 208h1v1h-1zM724 209h1v1h-1zM725 210h1v1h-1zM726 209h1v1h-1zM727 209h1v1h-1zM728 208h1v1h-1zM729 208h1v1h-1zM730 207h1v1h-1zM731 207h1v1h-1zM732 207h1v1h-1zM733 207h1v1h-1zM734 207h1v1h-1zM735 208h1v2h-1zM736 210h1v1h-1zM737 211h1v1h-1zM738 212h1v2h-1zM739 214h1v1h-1zM740 215h1v1h-1zM741 216h1v1h-1zM742 216h1v1h-1zM743 217h1v1h-1zM744 218h1v1h-1zM745 219h1v1h-1zM746 219h1v1h-1zM747 220h1v1h-1zM748 220h1v1h-1zM749 221h1v1h-1zM750 221h1v1h-1zM751 222h1v1h-1zM752 222h1v1h-1zM753 223h1v1h-1zM754 223h1v1h-1zM755 223h1v1h-1zM756 223h1v1h-1zM757 223h1v1h-1zM758 224h1v1h-1zM759 224h1v1h-1zM760 224h1v1h-1zM761 224h1v1h-1zM762 224h1v1h-1zM763 224h1v1h-1zM764 224h1v1h-1zM765 224h1v1h-1zM766 224h1v1h-1zM767 225h1v1h-1zM768 225h1v1h-1zM769 225h1v1h-1zM770 225h1v1h-1zM771 225h1v1h-1zM772 226h1v1h-1zM773 226h1v1h-1zM774 227h1v1h-1zM775 227h1v1h-1zM776 228h1v1h-1zM777 228h1v1h-1zM778 228h1v1h-1zM779 227h1v1h-1zM780 227h1v1h-1zM781 227h1v1h-1zM782 226h1v1h-1zM783 225h1v1h-1zM784 223h1v2h-1zM785 222h1v1h-1zM786 221h1v1h-1zM787 219h1v2h-1zM788 217h1v2h-1zM789 216h1v1h-1zM790 214h1v2h-1zM791 212h1v2h-1zM792 211h1v1h-1zM793 209h1v2h-1zM794 208h1v1h-1zM795 206h1v2h-1zM796 205h1v1h-1zM797 203h1v2h-1zM798 202h1v1h-1zM799 202h1v1h-1zM800 201h1v1h-1zM801 201h1v1h-1zM802 200h1v1h-1zM803 200h1v1h-1zM804 200h1v1h-1zM805 200h1v1h-1zM806 200h1v1h-1zM807 200h1v1h-1zM808 201h1v1h-1zM809 201h1v1h-1zM810 201h1v1h-1zM811 201h1v1h-1zM812 201h1v1h-1zM813 201h1v1h-1zM814 201h1v1h-1zM815 202h1v1h-1zM816 202h1v1h-1zM817 202h1v1h-1zM818 202h1v1h-1zM819 200h1v2h-1zM820 198h1v2h-1zM821 197h1v1h-1zM822 195h1v2h-1zM823 194h1v1h-1zM824 193h1v1h-1zM825 192h1v1h-1zM826 191h1v1h-1zM827 190h1v1h-1zM828 189h1v1h-1zM829 188h1v1h-1zM830 187h1v1h-1zM831 186h1v1h-1zM832 185h1v1h-1zM833 184h1v1h-1zM834 183h1v1h-1zM835 182h1v1h-1zM836 181h1v1h-1zM837 180h1v1h-1zM838 179h1v1h-1zM839 178h1v1h-1zM840 176h1v2h-1zM841 175h1v1h-1zM842 174h1v1h-1zM843 173h1v1h-1zM844 172h1v1h-1zM845 172h1v1h-1zM846 171h1v1h-1zM847 171h1v1h-1zM848 170h1v1h-1zM849 170h1v1h-1zM850 169h1v1h-1zM851 167h1v2h-1zM852 165h1v2h-1zM853 164h1v1h-1zM854 162h1v2h-1zM855 161h1v1h-1zM856 160h1v1h-1zM857 160h1v1h-1zM858 159h1v1h-1zM859 158h1v1h-1zM860 158h1v1h-1zM861 157h1v1h-1zM862 157h1v1h-1zM863 156h1v1h-1zM864 156h1v1h-1zM865 155h1v1h-1zM866 155h1v1h-1zM867 156h1v1h-1zM868 156h1v1h-1zM869 157h1v1h-1zM870 158h1v1h-1zM871 159h1v2h-1zM872 161h1v1h-1zM873 162h1v1h-1zM874 163h1v2h-1zM875 165h1v1h-1zM876 166h1v1h-1zM877 167h1v1h-1zM878 168h1v2h-1zM879 170h1v1h-1zM880 171h1v1h-1zM881 171h1v1h-1zM882 171h1v1h-1zM883 171h1v1h-1zM884 172h1v1h-1zM885 172h1v1h-1zM886 172h1v1h-1zM887 172h1v1h-1zM888 171h1v1h-1zM889 171h1v1h-1zM890 170h1v1h-1zM891 169h1v1h-1zM892 168h1v1h-1zM893 168h1v1h-1zM894 167h1v1h-1zM895 168h1v1h-1zM896 168h1v1h-1zM897 169h1v1h-1zM898 170h1v1h-1zM899 170h1v1h-1zM900 171h1v1h-1zM901 171h1v1h-1zM902 172h1v1h-1zM903 172h1v1h-1zM904 172h1v1h-1zM905 172h1v1h-1zM906 173h1v1h-1zM907 173h1v1h-1zM908 174h1v1h-1zM909 174h1v1h-1zM910 175h1v1h-1zM911 176h1v1h-1zM912 177h1v1h-1zM913 177h1v1h-1zM914 178h1v1h-1zM915 178h1v1h-1zM916 179h1v1h-1zM917 179h1v1h-1zM918 180h1v1h-1zM919 180h1v1h-1zM920 180h1v1h-1zM921 180h1v1h-1zM922 180h1v1h-1zM923 179h1v1h-1zM924 179h1v1h-1zM925 178h1v1h-1z" fill="#0000ff" shape-rendering="crispEdges"/>
<defs>
<linearGradient id="gb" x1="0" y1="0" x2="0" y2="1"><stop offset="0" stop-color="#5050f0"/><stop offset="0.45" stop-color="#2828e0"/><stop offset="1" stop-color="#0000b4"/></linearGradient>
<linearGradient id="gg" x1="0" y1="0" x2="0" y2="1"><stop offset="0" stop-color="#dedede"/><stop offset="1" stop-color="#cdcdcd"/></linearGradient>
</defs>
<path d="M8 46H59V70H117V103H8Z" fill="url(#gb)" shape-rendering="crispEdges"/>
<path d="M175 46H227V103H119V70H175Z" fill="url(#gb)" shape-rendering="crispEdges"/>
<rect x="12" y="70" width="44" height="1" fill="#9090f0"/>
<rect x="179" y="70" width="44" height="1" fill="#9090f0"/>
<text x="33.3" y="62" font-size="12.5" fill="#fff" text-anchor="middle" textLength="25.5" lengthAdjust="spacingAndGlyphs">SELL</text>
<text x="200.5" y="62" font-size="12.5" fill="#fff" text-anchor="middle" textLength="23" lengthAdjust="spacingAndGlyphs">BUY</text>
<rect x="62" y="46" width="111" height="22" fill="#b4b4b4"/>
<rect x="63" y="47" width="109" height="20" fill="#fff"/>
<rect x="63" y="47" width="20" height="20" fill="#f6f6f6"/>
<rect x="64" y="48" width="18" height="6" fill="#ededed"/>
<rect x="64" y="54" width="18" height="12" fill="url(#gg)"/>
<rect x="152" y="47" width="20" height="20" fill="#f6f6f6"/>
<rect x="153" y="48" width="18" height="6" fill="#ededed"/>
<rect x="153" y="54" width="18" height="12" fill="url(#gg)"/>
<rect x="83" y="47" width="1" height="20" fill="#b4b4b4"/>
<rect x="151" y="47" width="1" height="20" fill="#b4b4b4"/>
<path d="M69.7 55H75.3L72.5 58.3Z" fill="#5570c8"/><path d="M158.8 58.3H164.4L161.6 55Z" fill="#5570c8"/>
<text x="147.3" y="61" font-size="12.5" fill="#000" text-anchor="end" textLength="22.5" lengthAdjust="spacingAndGlyphs" stroke="#000" stroke-width="0.2">1.00</text>
<text x="28.3" y="97.6" font-size="10.8" fill="#fff" textLength="23.5" lengthAdjust="spacingAndGlyphs" font-weight="bold" stroke="#fff" stroke-width="0.2">0.93</text>
<text x="54.3" y="98" font-size="32" fill="#fff" textLength="37.5" lengthAdjust="spacingAndGlyphs" style="font-family:'DejaVu Sans Light','DejaVu Sans',sans-serif;font-weight:200" stroke="#fff" stroke-width="0.7">01</text>
<text x="95.7" y="81.8" font-size="10.5" fill="#fff" textLength="6.8" lengthAdjust="spacingAndGlyphs" font-weight="bold" stroke="#fff" stroke-width="0.2">6</text>
<text x="138.3" y="97.6" font-size="10.8" fill="#fff" textLength="23.5" lengthAdjust="spacingAndGlyphs" font-weight="bold" stroke="#fff" stroke-width="0.2">0.93</text>
<text x="164.8" y="98" font-size="32" fill="#fff" textLength="37.5" lengthAdjust="spacingAndGlyphs" style="font-family:'DejaVu Sans Light','DejaVu Sans',sans-serif;font-weight:200" stroke="#fff" stroke-width="0.7">03</text>
<text x="206.4" y="81.8" font-size="10.5" fill="#fff" textLength="6.8" lengthAdjust="spacingAndGlyphs" font-weight="bold" stroke="#fff" stroke-width="0.2">8</text>
<path d="M8 37.5H15L11.5 33.3Z" fill="#000"/>
<text x="19.8" y="39" font-size="10" fill="#000" textLength="67" lengthAdjust="spacingAndGlyphs" stroke="#000" stroke-width="0.2">USDCHF-,Daily</text>
<text x="94.8" y="39" font-size="10" fill="#000" textLength="140.3" lengthAdjust="spacingAndGlyphs" stroke="#000" stroke-width="0.2">0.92526 0.93057 0.92478 0.93016</text>
<g shape-rendering="crispEdges">
<rect x="5" y="452" width="2" height="16" fill="#c0c0c0"/>
<rect x="8" y="452" width="3" height="14" fill="#c0c0c0"/>
<rect x="12" y="452" width="3" height="12" fill="#c0c0c0"/>
<rect x="16" y="452" width="3" height="6" fill="#c0c0c0"/>
<rect x="20" y="446" width="3" height="6" fill="#c0c0c0"/>
<rect x="24" y="436" width="3" height="16" fill="#c0c0c0"/>
<rect x="28" y="427" width="3" height="25" fill="#c0c0c0"/>
<rect x="32" y="423" width="3" height="29" fill="#c0c0c0"/>
<rect x="36" y="421" width="3" height="31" fill="#c0c0c0"/>
<rect x="40" y="419" width="3" height="33" fill="#c0c0c0"/>
<rect x="44" y="418" width="3" height="34" fill="#c0c0c0"/>
<rect x="48" y="417" width="3" height="35" fill="#c0c0c0"/>
<rect x="52" y="417" width="3" height="35" fill="#c0c0c0"/>
<rect x="56" y="416" width="3" height="36" fill="#c0c0c0"/>
<rect x="60" y="416" width="3" height="36" fill="#c0c0c0"/>
<rect x="64" y="416" width="3" height="36" fill="#c0c0c0"/>
<rect x="68" y="416" width="3" height="36" fill="#c0c0c0"/>
<rect x="72" y="417" width="3" height="35" fill="#c0c0c0"/>
<rect x="76" y="417" width="3" height="35" fill="#c0c0c0"/>
<rect x="80" y="418" width="3" height="34" fill="#c0c0c0"/>
<rect x="84" y="418" width="3" height="34" fill="#c0c0c0"/>
<rect x="88" y="420" width="3" height="32" fill="#c0c0c0"/>
<rect x="92" y="423" width="3" height="29" fill="#c0c0c0"/>
<rect x="96" y="428" width="3" height="24" fill="#c0c0c0"/>
<rect x="100" y="433" width="3" height="19" fill="#c0c0c0"/>
<rect x="104" y="436" width="3" height="16" fill="#c0c0c0"/>
<rect x="108" y="437" width="3" height="15" fill="#c0c0c0"/>
<rect x="112" y="440" width="3" height="12" fill="#c0c0c0"/>
<rect x="116" y="441" width="3" height="11" fill="#c0c0c0"/>
<rect x="120" y="440" width="3" height="12" fill="#c0c0c0"/>
<rect x="124" y="441" width="3" height="11" fill="#c0c0c0"/>
<rect x="128" y="441" width="3" height="11" fill="#c0c0c0"/>
<rect x="132" y="440" width="3" height="12" fill="#c0c0c0"/>
<rect x="136" y="442" width="3" height="10" fill="#c0c0c0"/>
<rect x="140" y="442" width="3" height="10" fill="#c0c0c0"/>
<rect x="144" y="442" width="3" height="10" fill="#c0c0c0"/>
<rect x="148" y="442" width="3" height="10" fill="#c0c0c0"/>
<rect x="152" y="445" width="3" height="7" fill="#c0c0c0"/>
<rect x="156" y="448" width="3" height="4" fill="#c0c0c0"/>
<rect x="160" y="452" width="3" height="1" fill="#c0c0c0"/>
<rect x="164" y="452" width="3" height="7" fill="#c0c0c0"/>
<rect x="168" y="452" width="3" height="12" fill="#c0c0c0"/>
<rect x="172" y="452" width="3" height="15" fill="#c0c0c0"/>
<rect x="176" y="452" width="3" height="18" fill="#c0c0c0"/>
<rect x="180" y="452" width="3" height="20" fill="#c0c0c0"/>
<rect x="184" y="452" width="3" height="22" fill="#c0c0c0"/>
<rect x="188" y="452" width="3" height="22" fill="#c0c0c0"/>
<rect x="192" y="452" width="3" height="17" fill="#c0c0c0"/>
<rect x="196" y="452" width="3" height="12" fill="#c0c0c0"/>
<rect x="200" y="452" width="3" height="6" fill="#c0c0c0"/>
<rect x="204" y="451" width="3" height="1" fill="#c0c0c0"/>
<rect x="208" y="446" width="3" height="6" fill="#c0c0c0"/>
<rect x="212" y="442" width="3" height="10" fill="#c0c0c0"/>
<rect x="216" y="444" width="3" height="8" fill="#c0c0c0"/>
<rect x="220" y="445" width="3" height="7" fill="#c0c0c0"/>
<rect x="224" y="447" width="3" height="5" fill="#c0c0c0"/>
<rect x="228" y="448" width="3" height="4" fill="#c0c0c0"/>
<rect x="232" y="448" width="3" height="4" fill="#c0c0c0"/>
<rect x="236" y="446" width="3" height="6" fill="#c0c0c0"/>
<rect x="240" y="445" width="3" height="7" fill="#c0c0c0"/>
<rect x="244" y="445" width="3" height="7" fill="#c0c0c0"/>
<rect x="248" y="448" width="3" height="4" fill="#c0c0c0"/>
<rect x="252" y="450" width="3" height="2" fill="#c0c0c0"/>
<rect x="256" y="451" width="3" height="1" fill="#c0c0c0"/>
<rect x="260" y="450" width="3" height="2" fill="#c0c0c0"/>
<rect x="264" y="452" width="3" height="1" fill="#c0c0c0"/>
<rect x="268" y="452" width="3" height="3" fill="#c0c0c0"/>
<rect x="272" y="452" width="3" height="2" fill="#c0c0c0"/>
<rect x="276" y="452" width="3" height="1" fill="#c0c0c0"/>
<rect x="280" y="452" width="3" height="1" fill="#c0c0c0"/>
<rect x="284" y="452" width="3" height="1" fill="#c0c0c0"/>
<rect x="288" y="452" width="3" height="1" fill="#c0c0c0"/>
<rect x="292" y="452" width="3" height="1" fill="#c0c0c0"/>
<rect x="296" y="452" width="3" height="1" fill="#c0c0c0"/>
<rect x="300" y="450" width="3" height="2" fill="#c0c0c0"/>
<rect x="304" y="447" width="3" height="5" fill="#c0c0c0"/>
<rect x="308" y="447" width="3" height="5" fill="#c0c0c0"/>
<rect x="312" y="446" width="3" height="6" fill="#c0c0c0"/>
<rect x="316" y="446" width="3" height="6" fill="#c0c0c0"/>
<rect x="320" y="443" width="3" height="9" fill="#c0c0c0"/>
<rect x="324" y="443" width="3" height="9" fill="#c0c0c0"/>
<rect x="328" y="442" width="3" height="10" fill="#c0c0c0"/>
<rect x="332" y="438" width="3" height="14" fill="#c0c0c0"/>
<rect x="336" y="432" width="3" height="20" fill="#c0c0c0"/>
<rect x="340" y="427" width="3" height="25" fill="#c0c0c0"/>
<rect x="344" y="427" width="3" height="25" fill="#c0c0c0"/>
<rect x="348" y="429" width="3" height="23" fill="#c0c0c0"/>
<rect x="352" y="429" width="3" height="23" fill="#c0c0c0"/>
<rect x="356" y="430" width="3" height="22" fill="#c0c0c0"/>
<rect x="360" y="432" width="3" height="20" fill="#c0c0c0"/>
<rect x="364" y="433" width="3" height="19" fill="#c0c0c0"/>
<rect x="368" y="434" width="3" height="18" fill="#c0c0c0"/>
<rect x="372" y="432" width="3" height="20" fill="#c0c0c0"/>
<rect x="376" y="429" width="3" height="23" fill="#c0c0c0"/>
<rect x="380" y="427" width="3" height="25" fill="#c0c0c0"/>
<rect x="384" y="428" width="3" height="24" fill="#c0c0c0"/>
<rect x="388" y="429" width="3" height="23" fill="#c0c0c0"/>
<rect x="392" y="431" width="3" height="21" fill="#c0c0c0"/>
<rect x="396" y="433" width="3" height="19" fill="#c0c0c0"/>
<rect x="400" y="435" width="3" height="17" fill="#c0c0c0"/>
<rect x="404" y="435" width="3" height="17" fill="#c0c0c0"/>
<rect x="408" y="437" width="3" height="15" fill="#c0c0c0"/>
<rect x="412" y="438" width="3" height="14" fill="#c0c0c0"/>
<rect x="416" y="439" width="3" height="13" fill="#c0c0c0"/>
<rect x="420" y="439" width="3" height="13" fill="#c0c0c0"/>
<rect x="424" y="442" width="3" height="10" fill="#c0c0c0"/>
<rect x="428" y="444" width="3" height="8" fill="#c0c0c0"/>
<rect x="432" y="447" width="3" height="5" fill="#c0c0c0"/>
<rect x="436" y="449" width="3" height="3" fill="#c0c0c0"/>
<rect x="440" y="451" width="3" height="1" fill="#c0c0c0"/>
<rect x="444" y="452" width="3" height="1" fill="#c0c0c0"/>
<rect x="448" y="452" width="3" height="5" fill="#c0c0c0"/>
<rect x="452" y="452" width="3" height="8" fill="#c0c0c0"/>
<rect x="456" y="452" width="3" height="12" fill="#c0c0c0"/>
<rect x="460" y="452" width="3" height="14" fill="#c0c0c0"/>
<rect x="464" y="452" width="3" height="14" fill="#c0c0c0"/>
<rect x="468" y="452" width="3" height="13" fill="#c0c0c0"/>
<rect x="472" y="452" width="3" height="13" fill="#c0c0c0"/>
<rect x="476" y="452" width="3" height="18" fill="#c0c0c0"/>
<rect x="480" y="452" width="3" height="19" fill="#c0c0c0"/>
<rect x="484" y="452" width="3" height="19" fill="#c0c0c0"/>
<rect x="488" y="452" width="3" height="22" fill="#c0c0c0"/>
<rect x="492" y="452" width="3" height="22" fill="#c0c0c0"/>
<rect x="496" y="452" width="3" height="23" fill="#c0c0c0"/>
<rect x="500" y="452" width="3" height="23" fill="#c0c0c0"/>
<rect x="504" y="452" width="3" height="23" fill="#c0c0c0"/>
<rect x="508" y="452" width="3" height="23" fill="#c0c0c0"/>
<rect x="512" y="452" width="3" height="22" fill="#c0c0c0"/>
<rect x="516" y="452" width="3" height="21" fill="#c0c0c0"/>
<rect x="520" y="452" width="3" height="18" fill="#c0c0c0"/>
<rect x="524" y="452" width="3" height="13" fill="#c0c0c0"/>
<rect x="528" y="452" width="3" height="9" fill="#c0c0c0"/>
<rect x="532" y="452" width="3" height="6" fill="#c0c0c0"/>
<rect x="536" y="452" width="3" height="1" fill="#c0c0c0"/>
<rect x="540" y="445" width="3" height="7" fill="#c0c0c0"/>
<rect x="544" y="441" width="3" height="11" fill="#c0c0c0"/>
<rect x="548" y="439" width="3" height="13" fill="#c0c0c0"/>
<rect x="552" y="436" width="3" height="16" fill="#c0c0c0"/>
<rect x="556" y="434" width="3" height="18" fill="#c0c0c0"/>
<rect x="560" y="430" width="3" height="22" fill="#c0c0c0"/>
<rect x="564" y="428" width="3" height="24" fill="#c0c0c0"/>
<rect x="568" y="425" width="3" height="27" fill="#c0c0c0"/>
<rect x="572" y="423" width="3" height="29" fill="#c0c0c0"/>
<rect x="576" y="429" width="3" height="23" fill="#c0c0c0"/>
<rect x="580" y="433" width="3" height="19" fill="#c0c0c0"/>
<rect x="584" y="437" width="3" height="15" fill="#c0c0c0"/>
<rect x="588" y="442" width="3" height="10" fill="#c0c0c0"/>
<rect x="592" y="445" width="3" height="7" fill="#c0c0c0"/>
<rect x="596" y="448" width="3" height="4" fill="#c0c0c0"/>
<rect x="600" y="452" width="3" height="1" fill="#c0c0c0"/>
<rect x="604" y="452" width="3" height="3" fill="#c0c0c0"/>
<rect x="608" y="452" width="3" height="2" fill="#c0c0c0"/>
<rect x="612" y="452" width="3" height="1" fill="#c0c0c0"/>
<rect x="616" y="452" width="3" height="1" fill="#c0c0c0"/>
<rect x="620" y="452" width="3" height="2" fill="#c0c0c0"/>
<rect x="624" y="452" width="3" height="2" fill="#c0c0c0"/>
<rect x="628" y="452" width="3" height="3" fill="#c0c0c0"/>
<rect x="632" y="452" width="3" height="3" fill="#c0c0c0"/>
<rect x="636" y="452" width="3" height="2" fill="#c0c0c0"/>
<rect x="640" y="452" width="3" height="1" fill="#c0c0c0"/>
<rect x="644" y="452" width="3" height="3" fill="#c0c0c0"/>
<rect x="648" y="452" width="3" height="1" fill="#c0c0c0"/>
<rect x="652" y="452" width="3" height="1" fill="#c0c0c0"/>
<rect x="656" y="452" width="3" height="1" fill="#c0c0c0"/>
<rect x="660" y="452" width="3" height="1" fill="#c0c0c0"/>
<rect x="664" y="452" width="3" height="3" fill="#c0c0c0"/>
<rect x="668" y="452" width="3" height="5" fill="#c0c0c0"/>
<rect x="672" y="452" width="3" height="6" fill="#c0c0c0"/>
<rect x="676" y="452" width="3" height="7" fill="#c0c0c0"/>
<rect x="680" y="452" width="3" height="9" fill="#c0c0c0"/>
<rect x="684" y="452" width="3" height="10" fill="#c0c0c0"/>
<rect x="688" y="452" width="3" height="12" fill="#c0c0c0"/>
<rect x="692" y="452" width="3" height="14" fill="#c0c0c0"/>
<rect x="696" y="452" width="3" height="17" fill="#c0c0c0"/>
<rect x="700" y="452" width="3" height="18" fill="#c0c0c0"/>
<rect x="704" y="452" width="3" height="16" fill="#c0c0c0"/>
<rect x="708" y="452" width="3" height="15" fill="#c0c0c0"/>
<rect x="712" y="452" width="3" height="13" fill="#c0c0c0"/>
<rect x="716" y="452" width="3" height="10" fill="#c0c0c0"/>
<rect x="720" y="452" width="3" height="8" fill="#c0c0c0"/>
<rect x="724" y="452" width="3" height="7" fill="#c0c0c0"/>
<rect x="728" y="452" width="3" height="2" fill="#c0c0c0"/>
<rect x="732" y="450" width="3" height="2" fill="#c0c0c0"/>
<rect x="736" y="452" width="3" height="2" fill="#c0c0c0"/>
<rect x="740" y="452" width="3" height="6" fill="#c0c0c0"/>
<rect x="744" y="452" width="3" height="9" fill="#c0c0c0"/>
<rect x="748" y="452" width="3" height="9" fill="#c0c0c0"/>
<rect x="752" y="452" width="3" height="10" fill="#c0c0c0"/>
<rect x="756" y="452" width="3" height="9" fill="#c0c0c0"/>
<rect x="760" y="452" width="3" height="9" fill="#c0c0c0"/>
<rect x="764" y="452" width="3" height="8" fill="#c0c0c0"/>
<rect x="768" y="452" width="3" height="10" fill="#c0c0c0"/>
<rect x="772" y="452" width="3" height="11" fill="#c0c0c0"/>
<rect x="776" y="452" width="3" height="11" fill="#c0c0c0"/>
<rect x="780" y="452" width="3" height="8" fill="#c0c0c0"/>
<rect x="784" y="452" width="3" height="3" fill="#c0c0c0"/>
<rect x="788" y="446" width="3" height="6" fill="#c0c0c0"/>
<rect x="792" y="440" width="3" height="12" fill="#c0c0c0"/>
<rect x="796" y="435" width="3" height="17" fill="#c0c0c0"/>
<rect x="800" y="433" width="3" height="19" fill="#c0c0c0"/>
<rect x="804" y="436" width="3" height="16" fill="#c0c0c0"/>
<rect x="808" y="439" width="3" height="13" fill="#c0c0c0"/>
<rect x="812" y="441" width="3" height="11" fill="#c0c0c0"/>
<rect x="816" y="441" width="3" height="11" fill="#c0c0c0"/>
<rect x="820" y="440" width="3" height="12" fill="#c0c0c0"/>
<rect x="824" y="440" width="3" height="12" fill="#c0c0c0"/>
<rect x="828" y="440" width="3" height="12" fill="#c0c0c0"/>
<rect x="832" y="440" width="3" height="12" fill="#c0c0c0"/>
<rect x="836" y="440" width="3" height="12" fill="#c0c0c0"/>
<rect x="840" y="441" width="3" height="11" fill="#c0c0c0"/>
<rect x="844" y="441" width="3" height="11" fill="#c0c0c0"/>
<rect x="848" y="441" width="3" height="11" fill="#c0c0c0"/>
<rect x="852" y="441" width="3" height="11" fill="#c0c0c0"/>
<rect x="856" y="443" width="3" height="9" fill="#c0c0c0"/>
<rect x="860" y="446" width="3" height="6" fill="#c0c0c0"/>
<rect x="864" y="448" width="3" height="4" fill="#c0c0c0"/>
<rect x="868" y="449" width="3" height="3" fill="#c0c0c0"/>
<rect x="872" y="452" width="3" height="2" fill="#c0c0c0"/>
<rect x="876" y="452" width="3" height="2" fill="#c0c0c0"/>
<rect x="880" y="452" width="3" height="4" fill="#c0c0c0"/>
<rect x="884" y="452" width="3" height="1" fill="#c0c0c0"/>
<rect x="888" y="450" width="3" height="2" fill="#c0c0c0"/>
<rect x="892" y="447" width="3" height="5" fill="#c0c0c0"/>
<rect x="896" y="451" width="3" height="1" fill="#c0c0c0"/>
<rect x="900" y="452" width="3" height="2" fill="#c0c0c0"/>
<rect x="904" y="452" width="3" height="3" fill="#c0c0c0"/>
<rect x="908" y="452" width="3" height="4" fill="#c0c0c0"/>
<rect x="912" y="452" width="3" height="6" fill="#c0c0c0"/>
<rect x="916" y="452" width="3" height="5" fill="#c0c0c0"/>
<rect x="920" y="452" width="3" height="1" fill="#c0c0c0"/>
<rect x="924" y="448" width="3" height="4" fill="#c0c0c0"/>
</g>
<text x="9.5" y="421" font-size="10" fill="#000" textLength="150" lengthAdjust="spacingAndGlyphs" stroke="#000" stroke-width="0.2">MACD(12,26,9) 0.000490 -0.000162</text>
<path d="M5 469h1v1h-1zM6 469h1v1h-1zM7 468h1v1h-1zM8 468h1v1h-1zM9 468h1v1h-1zM10 468h1v1h-1zM11 468h1v1h-1zM12 467h1v1h-1zM13 467h1v1h-1zM14 467h1v1h-1zM15 466h1v1h-1zM16 466h1v1h-1zM17 466h1v1h-1zM18 465h1v1h-1zM19 465h1v1h-1zM20 464h1v1h-1zM21 464h1v1h-1zM22 463h1v1h-1zM23 462h1v1h-1zM24 462h1v1h-1zM25 461h1v1h-1zM26 460h1v1h-1zM27 459h1v1h-1zM28 457h1v2h-1zM29 456h1v1h-1zM30 455h1v1h-1zM31 453h1v2h-1zM32 452h1v1h-1zM33 451h1v1h-1zM34 450h1v1h-1zM35 448h1v2h-1zM36 447h1v1h-1zM37 446h1v1h-1zM38 444h1v2h-1zM39 443h1v1h-1zM40 442h1v1h-1zM41 440h1v2h-1zM42 439h1v1h-1zM43 437h1v2h-1zM44 436h1v1h-1zM45 434h1v2h-1zM46 433h1v1h-1zM47 432h1v1h-1zM48 431h1v1h-1zM49 430h1v1h-1zM50 429h1v1h-1zM51 428h1v1h-1zM52 427h1v1h-1zM53 426h1v1h-1zM54 425h1v1h-1zM55 424h1v1h-1zM56 424h1v1h-1zM57 423h1v1h-1zM58 422h1v1h-1zM59 421h1v1h-1zM60 421h1v1h-1zM61 420h1v1h-1zM62 420h1v1h-1zM63 419h1v1h-1zM64 419h1v1h-1zM65 418h1v1h-1zM66 418h1v1h-1zM67 418h1v1h-1zM68 418h1v1h-1zM69 417h1v1h-1zM70 417h1v1h-1zM71 417h1v1h-1zM72 416h1v1h-1zM73 416h1v1h-1zM74 416h1v1h-1zM75 416h1v1h-1zM76 416h1v1h-1zM77 416h1v1h-1zM78 416h1v1h-1zM79 416h1v1h-1zM80 416h1v1h-1zM81 416h1v1h-1zM82 416h1v1h-1zM83 416h1v1h-1zM84 416h1v1h-1zM85 416h1v1h-1zM86 416h1v1h-1zM87 416h1v1h-1zM88 416h1v1h-1zM89 416h1v1h-1zM90 416h1v1h-1zM91 416h1v1h-1zM92 417h1v1h-1zM93 417h1v1h-1zM94 417h1v1h-1zM95 417h1v1h-1zM96 417h1v1h-1zM97 418h1v1h-1zM98 418h1v1h-1zM99 418h1v1h-1zM100 419h1v1h-1zM101 420h1v1h-1zM102 420h1v1h-1zM103 421h1v1h-1zM104 421h1v1h-1zM105 422h1v1h-1zM106 422h1v1h-1zM107 423h1v1h-1zM108 423h1v1h-1zM109 424h1v1h-1zM110 425h1v1h-1zM111 425h1v1h-1zM112 426h1v1h-1zM113 426h1v1h-1zM114 427h1v1h-1zM115 427h1v1h-1zM116 428h1v1h-1zM117 429h1v1h-1zM118 430h1v1h-1zM119 431h1v1h-1zM120 432h1v1h-1zM121 433h1v1h-1zM122 434h1v1h-1zM123 435h1v1h-1zM124 435h1v1h-1zM125 436h1v1h-1zM126 436h1v1h-1zM127 437h1v1h-1zM128 437h1v1h-1zM129 438h1v1h-1zM130 438h1v1h-1zM131 439h1v1h-1zM132 439h1v1h-1zM133 439h1v1h-1zM134 440h1v1h-1zM135 440h1v1h-1zM136 440h1v1h-1zM137 440h1v1h-1zM138 440h1v1h-1zM139 440h1v1h-1zM140 441h1v1h-1zM141 441h1v1h-1zM142 441h1v1h-1zM143 441h1v1h-1zM144 441h1v1h-1zM145 441h1v1h-1zM146 441h1v1h-1zM147 441h1v1h-1zM148 442h1v1h-1zM149 442h1v1h-1zM150 442h1v1h-1zM151 442h1v1h-1zM152 442h1v1h-1zM153 442h1v1h-1zM154 442h1v1h-1zM155 443h1v1h-1zM156 443h1v1h-1zM157 443h1v1h-1zM158 443h1v1h-1zM159 443h1v1h-1zM160 444h1v1h-1zM161 444h1v1h-1zM162 444h1v1h-1zM163 444h1v1h-1zM164 445h1v1h-1zM165 445h1v1h-1zM166 446h1v1h-1zM167 446h1v1h-1zM168 447h1v1h-1zM169 447h1v1h-1zM170 448h1v1h-1zM171 449h1v1h-1zM172 450h1v1h-1zM173 450h1v1h-1zM174 451h1v1h-1zM175 452h1v1h-1zM176 453h1v1h-1zM177 454h1v1h-1zM178 455h1v1h-1zM179 455h1v1h-1zM180 456h1v1h-1zM181 457h1v1h-1zM182 458h1v1h-1zM183 459h1v1h-1zM184 460h1v1h-1zM185 461h1v1h-1zM186 462h1v1h-1zM187 463h1v1h-1zM188 464h1v1h-1zM189 464h1v1h-1zM190 465h1v1h-1zM191 465h1v1h-1zM192 466h1v1h-1zM193 466h1v1h-1zM194 467h1v1h-1zM195 467h1v1h-1zM196 467h1v1h-1zM197 467h1v1h-1zM198 468h1v1h-1zM199 468h1v1h-1zM200 468h1v1h-1zM201 468h1v1h-1zM202 467h1v1h-1zM203 467h1v1h-1zM204 466h1v1h-1zM205 466h1v1h-1zM206 465h1v1h-1zM207 465h1v1h-1zM208 464h1v1h-1zM209 464h1v1h-1zM210 463h1v1h-1zM211 462h1v1h-1zM212 462h1v1h-1zM213 461h1v1h-1zM214 460h1v1h-1zM215 459h1v1h-1zM216 458h1v1h-1zM217 458h1v1h-1zM218 457h1v1h-1zM219 456h1v1h-1zM220 455h1v1h-1zM221 454h1v1h-1zM222 453h1v1h-1zM223 452h1v1h-1zM224 452h1v1h-1zM225 451h1v1h-1zM226 450h1v1h-1zM227 450h1v1h-1zM228 449h1v1h-1zM229 449h1v1h-1zM230 449h1v1h-1zM231 449h1v1h-1zM232 448h1v1h-1zM233 448h1v1h-1zM234 448h1v1h-1zM235 447h1v1h-1zM236 447h1v1h-1zM237 447h1v1h-1zM238 447h1v1h-1zM239 446h1v1h-1zM240 446h1v1h-1zM241 446h1v1h-1zM242 446h1v1h-1zM243 446h1v1h-1zM244 446h1v1h-1zM245 446h1v1h-1zM246 446h1v1h-1zM247 446h1v1h-1zM248 446h1v1h-1zM249 446h1v1h-1zM250 446h1v1h-1zM251 446h1v1h-1zM252 446h1v1h-1zM253 447h1v1h-1zM254 447h1v1h-1zM255 447h1v1h-1zM256 448h1v1h-1zM257 448h1v1h-1zM258 448h1v1h-1zM259 448h1v1h-1zM260 448h1v1h-1zM261 448h1v1h-1zM262 448h1v1h-1zM263 448h1v1h-1zM264 448h1v1h-1zM265 448h1v1h-1zM266 448h1v1h-1zM267 448h1v1h-1zM268 448h1v1h-1zM269 449h1v1h-1zM270 449h1v1h-1zM271 449h1v1h-1zM272 450h1v1h-1zM273 450h1v1h-1zM274 450h1v1h-1zM275 450h1v1h-1zM276 450h1v1h-1zM277 451h1v1h-1zM278 451h1v1h-1zM279 451h1v1h-1zM280 451h1v1h-1zM281 451h1v1h-1zM282 452h1v1h-1zM283 452h1v1h-1zM284 452h1v1h-1zM285 452h1v1h-1zM286 452h1v1h-1zM287 452h1v1h-1zM288 452h1v1h-1zM289 452h1v1h-1zM290 453h1v1h-1zM291 453h1v1h-1zM292 453h1v1h-1zM293 453h1v1h-1zM294 453h1v1h-1zM295 453h1v1h-1zM296 453h1v1h-1zM297 453h1v1h-1zM298 453h1v1h-1zM299 453h1v1h-1zM300 453h1v1h-1zM301 453h1v1h-1zM302 453h1v1h-1zM303 453h1v1h-1zM304 452h1v1h-1zM305 452h1v1h-1zM306 452h1v1h-1zM307 452h1v1h-1zM308 452h1v1h-1zM309 452h1v1h-1zM310 451h1v1h-1zM311 451h1v1h-1zM312 451h1v1h-1zM313 451h1v1h-1zM314 450h1v1h-1zM315 450h1v1h-1zM316 450h1v1h-1zM317 450h1v1h-1zM318 450h1v1h-1zM319 449h1v1h-1zM320 449h1v1h-1zM321 449h1v1h-1zM322 448h1v1h-1zM323 448h1v1h-1zM324 448h1v1h-1zM325 448h1v1h-1zM326 447h1v1h-1zM327 447h1v1h-1zM328 446h1v1h-1zM329 446h1v1h-1zM330 446h1v1h-1zM331 445h1v1h-1zM332 445h1v1h-1zM333 445h1v1h-1zM334 444h1v1h-1zM335 444h1v1h-1zM336 444h1v1h-1zM337 443h1v1h-1zM338 443h1v1h-1zM339 442h1v1h-1zM340 442h1v1h-1zM341 441h1v1h-1zM342 441h1v1h-1zM343 440h1v1h-1zM344 439h1v1h-1zM345 438h1v1h-1zM346 438h1v1h-1zM347 437h1v1h-1zM348 437h1v1h-1zM349 436h1v1h-1zM350 436h1v1h-1zM351 435h1v1h-1zM352 435h1v1h-1zM353 434h1v1h-1zM354 434h1v1h-1zM355 434h1v1h-1zM356 434h1v1h-1zM357 433h1v1h-1zM358 433h1v1h-1zM359 433h1v1h-1zM360 432h1v1h-1zM361 432h1v1h-1zM362 432h1v1h-1zM363 432h1v1h-1zM364 432h1v1h-1zM365 432h1v1h-1zM366 431h1v1h-1zM367 431h1v1h-1zM368 431h1v1h-1zM369 431h1v1h-1zM370 431h1v1h-1zM371 431h1v1h-1zM372 431h1v1h-1zM373 431h1v1h-1zM374 431h1v1h-1zM375 431h1v1h-1zM376 431h1v1h-1zM377 431h1v1h-1zM378 431h1v1h-1zM379 431h1v1h-1zM380 431h1v1h-1zM381 431h1v1h-1zM382 431h1v1h-1zM383 430h1v1h-1zM384 430h1v1h-1zM385 430h1v1h-1zM386 430h1v1h-1zM387 430h1v1h-1zM388 430h1v1h-1zM389 430h1v1h-1zM390 430h1v1h-1zM391 431h1v1h-1zM392 431h1v1h-1zM393 431h1v1h-1zM394 431h1v1h-1zM395 431h1v1h-1zM396 431h1v1h-1zM397 431h1v1h-1zM398 431h1v1h-1zM399 431h1v1h-1zM400 431h1v1h-1zM401 431h1v1h-1zM402 431h1v1h-1zM403 431h1v1h-1zM404 431h1v1h-1zM405 431h1v1h-1zM406 431h1v1h-1zM407 431h1v1h-1zM408 431h1v1h-1zM409 432h1v1h-1zM410 432h1v1h-1zM411 432h1v1h-1zM412 433h1v1h-1zM413 433h1v1h-1zM414 434h1v1h-1zM415 434h1v1h-1zM416 434h1v1h-1zM417 434h1v1h-1zM418 435h1v1h-1zM419 435h1v1h-1zM420 435h1v1h-1zM421 436h1v1h-1zM422 436h1v1h-1zM423 436h1v1h-1zM424 436h1v1h-1zM425 437h1v1h-1zM426 437h1v1h-1zM427 438h1v1h-1zM428 438h1v1h-1zM429 438h1v1h-1zM430 439h1v1h-1zM431 439h1v1h-1zM432 439h1v1h-1zM433 440h1v1h-1zM434 440h1v1h-1zM435 441h1v1h-1zM436 441h1v1h-1zM437 442h1v1h-1zM438 442h1v1h-1zM439 443h1v1h-1zM440 443h1v1h-1zM441 443h1v1h-1zM442 444h1v1h-1zM443 444h1v1h-1zM444 444h1v1h-1zM445 445h1v1h-1zM446 445h1v1h-1zM447 446h1v1h-1zM448 446h1v1h-1zM449 447h1v1h-1zM450 447h1v1h-1zM451 448h1v1h-1zM452 448h1v1h-1zM453 449h1v1h-1zM454 450h1v1h-1zM455 451h1v1h-1zM456 451h1v1h-1zM457 452h1v1h-1zM458 453h1v1h-1zM459 454h1v1h-1zM460 454h1v1h-1zM461 454h1v1h-1zM462 455h1v1h-1zM463 456h1v1h-1zM464 456h1v1h-1zM465 456h1v1h-1zM466 457h1v1h-1zM467 458h1v1h-1zM468 458h1v1h-1zM469 458h1v1h-1zM470 459h1v1h-1zM471 460h1v1h-1zM472 460h1v1h-1zM473 460h1v1h-1zM474 461h1v1h-1zM475 461h1v1h-1zM476 462h1v1h-1zM477 462h1v1h-1zM478 463h1v1h-1zM479 463h1v1h-1zM480 464h1v1h-1zM481 464h1v1h-1zM482 465h1v1h-1zM483 465h1v1h-1zM484 465h1v1h-1zM485 466h1v1h-1zM486 466h1v1h-1zM487 466h1v1h-1zM488 467h1v1h-1zM489 467h1v1h-1zM490 468h1v1h-1zM491 468h1v1h-1zM492 468h1v1h-1zM493 468h1v1h-1zM494 469h1v1h-1zM495 469h1v1h-1zM496 469h1v1h-1zM497 470h1v1h-1zM498 470h1v1h-1zM499 470h1v1h-1zM500 470h1v1h-1zM501 470h1v1h-1zM502 471h1v1h-1zM503 471h1v1h-1zM504 471h1v1h-1zM505 472h1v1h-1zM506 472h1v1h-1zM507 472h1v1h-1zM508 472h1v1h-1zM509 472h1v1h-1zM510 472h1v1h-1zM511 472h1v1h-1zM512 473h1v1h-1zM513 473h1v1h-1zM514 473h1v1h-1zM515 473h1v1h-1zM516 473h1v1h-1zM517 473h1v1h-1zM518 473h1v1h-1zM519 473h1v1h-1zM520 473h1v1h-1zM521 473h1v1h-1zM522 473h1v1h-1zM523 473h1v1h-1zM524 473h1v1h-1zM525 472h1v1h-1zM526 472h1v1h-1zM527 472h1v1h-1zM528 472h1v1h-1zM529 471h1v1h-1zM530 471h1v1h-1zM531 470h1v1h-1zM532 470h1v1h-1zM533 469h1v1h-1zM534 469h1v1h-1zM535 468h1v1h-1zM536 467h1v1h-1zM537 466h1v1h-1zM538 466h1v1h-1zM539 465h1v1h-1zM540 464h1v1h-1zM541 463h1v1h-1zM542 462h1v1h-1zM543 462h1v1h-1zM544 461h1v1h-1zM545 460h1v1h-1zM546 459h1v1h-1zM547 458h1v1h-1zM548 457h1v1h-1zM549 456h1v1h-1zM550 455h1v1h-1zM551 454h1v1h-1zM552 453h1v1h-1zM553 452h1v1h-1zM554 451h1v1h-1zM555 450h1v1h-1zM556 449h1v1h-1zM557 448h1v1h-1zM558 447h1v1h-1zM559 446h1v1h-1zM560 445h1v1h-1zM561 444h1v1h-1zM562 443h1v1h-1zM563 442h1v1h-1zM564 442h1v1h-1zM565 441h1v1h-1zM566 440h1v1h-1zM567 439h1v1h-1zM568 438h1v1h-1zM569 437h1v1h-1zM570 436h1v1h-1zM571 436h1v1h-1zM572 435h1v1h-1zM573 434h1v1h-1zM574 433h1v1h-1zM575 432h1v1h-1zM576 432h1v1h-1zM577 432h1v1h-1zM578 431h1v1h-1zM579 431h1v1h-1zM580 431h1v1h-1zM581 431h1v1h-1zM582 431h1v1h-1zM583 431h1v1h-1zM584 431h1v1h-1zM585 431h1v1h-1zM586 431h1v1h-1zM587 431h1v1h-1zM588 431h1v1h-1zM589 431h1v1h-1zM590 431h1v1h-1zM591 431h1v1h-1zM592 431h1v1h-1zM593 432h1v1h-1zM594 432h1v1h-1zM595 433h1v1h-1zM596 433h1v1h-1zM597 434h1v1h-1zM598 435h1v1h-1zM599 435h1v1h-1zM600 436h1v1h-1zM601 437h1v1h-1zM602 438h1v1h-1zM603 438h1v1h-1zM604 439h1v1h-1zM605 440h1v1h-1zM606 441h1v1h-1zM607 442h1v1h-1zM608 443h1v1h-1zM609 444h1v1h-1zM610 445h1v1h-1zM611 445h1v1h-1zM612 446h1v1h-1zM613 446h1v1h-1zM614 447h1v1h-1zM615 447h1v1h-1zM616 448h1v1h-1zM617 448h1v1h-1zM618 449h1v1h-1zM619 449h1v1h-1zM620 450h1v1h-1zM621 450h1v1h-1zM622 451h1v1h-1zM623 451h1v1h-1zM624 452h1v1h-1zM625 452h1v1h-1zM626 452h1v1h-1zM627 452h1v1h-1zM628 453h1v1h-1zM629 453h1v1h-1zM630 453h1v1h-1zM631 453h1v1h-1zM632 453h1v1h-1zM633 453h1v1h-1zM634 453h1v1h-1zM635 453h1v1h-1zM636 453h1v1h-1zM637 453h1v1h-1zM638 453h1v1h-1zM639 453h1v1h-1zM640 453h1v1h-1zM641 453h1v1h-1zM642 453h1v1h-1zM643 453h1v1h-1zM644 453h1v1h-1zM645 453h1v1h-1zM646 453h1v1h-1zM647 453h1v1h-1zM648 453h1v1h-1zM649 453h1v1h-1zM650 453h1v1h-1zM651 453h1v1h-1zM652 453h1v1h-1zM653 453h1v1h-1zM654 453h1v1h-1zM655 453h1v1h-1zM656 453h1v1h-1zM657 453h1v1h-1zM658 453h1v1h-1zM659 453h1v1h-1zM660 453h1v1h-1zM661 453h1v1h-1zM662 453h1v1h-1zM663 453h1v1h-1zM664 453h1v1h-1zM665 453h1v1h-1zM666 453h1v1h-1zM667 453h1v1h-1zM668 453h1v1h-1zM669 453h1v1h-1zM670 453h1v1h-1zM671 453h1v1h-1zM672 453h1v1h-1zM673 454h1v1h-1zM674 454h1v1h-1zM675 454h1v1h-1zM676 454h1v1h-1zM677 454h1v1h-1zM678 455h1v1h-1zM679 455h1v1h-1zM680 455h1v1h-1zM681 455h1v1h-1zM682 456h1v1h-1zM683 456h1v1h-1zM684 456h1v1h-1zM685 456h1v1h-1zM686 457h1v1h-1zM687 457h1v1h-1zM688 457h1v1h-1zM689 457h1v1h-1zM690 458h1v1h-1zM691 458h1v1h-1zM692 458h1v1h-1zM693 459h1v1h-1zM694 459h1v1h-1zM695 460h1v1h-1zM696 460h1v1h-1zM697 460h1v1h-1zM698 461h1v1h-1zM699 461h1v1h-1zM700 462h1v1h-1zM701 462h1v1h-1zM702 462h1v1h-1zM703 463h1v1h-1zM704 463h1v1h-1zM705 463h1v1h-1zM706 464h1v1h-1zM707 464h1v1h-1zM708 464h1v1h-1zM709 464h1v1h-1zM710 464h1v1h-1zM711 465h1v1h-1zM712 465h1v1h-1zM713 465h1v1h-1zM714 465h1v1h-1zM715 465h1v1h-1zM716 465h1v1h-1zM717 466h1v1h-1zM718 466h1v1h-1zM719 466h1v1h-1zM720 466h1v1h-1zM721 466h1v1h-1zM722 466h1v1h-1zM723 466h1v1h-1zM724 465h1v1h-1zM725 465h1v1h-1zM726 465h1v1h-1zM727 465h1v1h-1zM728 464h1v1h-1zM729 464h1v1h-1zM730 463h1v1h-1zM731 463h1v1h-1zM732 462h1v1h-1zM733 461h1v1h-1zM734 461h1v1h-1zM735 460h1v1h-1zM736 460h1v1h-1zM737 459h1v1h-1zM738 459h1v1h-1zM739 459h1v1h-1zM740 459h1v1h-1zM741 458h1v1h-1zM742 458h1v1h-1zM743 458h1v1h-1zM744 458h1v1h-1zM745 458h1v1h-1zM746 457h1v1h-1zM747 457h1v1h-1zM748 457h1v1h-1zM749 457h1v1h-1zM750 457h1v1h-1zM751 457h1v1h-1zM752 457h1v1h-1zM753 457h1v1h-1zM754 457h1v1h-1zM755 457h1v1h-1zM756 457h1v1h-1zM757 458h1v1h-1zM758 458h1v1h-1zM759 458h1v1h-1zM760 458h1v1h-1zM761 458h1v1h-1zM762 458h1v1h-1zM763 458h1v1h-1zM764 458h1v1h-1zM765 458h1v1h-1zM766 459h1v1h-1zM767 459h1v1h-1zM768 459h1v1h-1zM769 460h1v1h-1zM770 460h1v1h-1zM771 460h1v1h-1zM772 460h1v1h-1zM773 460h1v1h-1zM774 461h1v1h-1zM775 461h1v1h-1zM776 461h1v1h-1zM777 461h1v1h-1zM778 461h1v1h-1zM779 461h1v1h-1zM780 461h1v1h-1zM781 461h1v1h-1zM782 461h1v1h-1zM783 461h1v1h-1zM784 461h1v1h-1zM785 460h1v1h-1zM786 460h1v1h-1zM787 460h1v1h-1zM788 459h1v1h-1zM789 459h1v1h-1zM790 458h1v1h-1zM791 457h1v1h-1zM792 457h1v1h-1zM793 456h1v1h-1zM794 455h1v1h-1zM795 455h1v1h-1zM796 454h1v1h-1zM797 453h1v1h-1zM798 452h1v1h-1zM799 452h1v1h-1zM800 451h1v1h-1zM801 450h1v1h-1zM802 450h1v1h-1zM803 449h1v1h-1zM804 448h1v1h-1zM805 448h1v1h-1zM806 447h1v1h-1zM807 446h1v1h-1zM808 446h1v1h-1zM809 445h1v1h-1zM810 444h1v1h-1zM811 444h1v1h-1zM812 443h1v1h-1zM813 442h1v1h-1zM814 442h1v1h-1zM815 442h1v1h-1zM816 441h1v1h-1zM817 440h1v1h-1zM818 440h1v1h-1zM819 440h1v1h-1zM820 440h1v1h-1zM821 440h1v1h-1zM822 439h1v1h-1zM823 439h1v1h-1zM824 439h1v1h-1zM825 439h1v1h-1zM826 439h1v1h-1zM827 439h1v1h-1zM828 439h1v1h-1zM829 439h1v1h-1zM830 439h1v1h-1zM831 439h1v1h-1zM832 439h1v1h-1zM833 439h1v1h-1zM834 439h1v1h-1zM835 440h1v1h-1zM836 440h1v1h-1zM837 440h1v1h-1zM838 440h1v1h-1zM839 440h1v1h-1zM840 440h1v1h-1zM841 440h1v1h-1zM842 440h1v1h-1zM843 440h1v1h-1zM844 440h1v1h-1zM845 440h1v1h-1zM846 440h1v1h-1zM847 440h1v1h-1zM848 440h1v1h-1zM849 440h1v1h-1zM850 440h1v1h-1zM851 440h1v1h-1zM852 440h1v1h-1zM853 440h1v1h-1zM854 440h1v1h-1zM855 440h1v1h-1zM856 440h1v1h-1zM857 440h1v1h-1zM858 440h1v1h-1zM859 440h1v1h-1zM860 440h1v1h-1zM861 441h1v1h-1zM862 441h1v1h-1zM863 442h1v1h-1zM864 442h1v1h-1zM865 443h1v1h-1zM866 443h1v1h-1zM867 443h1v1h-1zM868 444h1v1h-1zM869 444h1v1h-1zM870 444h1v1h-1zM871 444h1v1h-1zM872 444h1v1h-1zM873 445h1v1h-1zM874 445h1v1h-1zM875 446h1v1h-1zM876 446h1v1h-1zM877 446h1v1h-1zM878 447h1v1h-1zM879 448h1v1h-1zM880 448h1v1h-1zM881 448h1v1h-1zM882 449h1v1h-1zM883 449h1v1h-1zM884 449h1v1h-1zM885 449h1v1h-1zM886 450h1v1h-1zM887 450h1v1h-1zM888 450h1v1h-1zM889 450h1v1h-1zM890 450h1v1h-1zM891 450h1v1h-1zM892 450h1v1h-1zM893 451h1v1h-1zM894 451h1v1h-1zM895 451h1v1h-1zM896 451h1v1h-1zM897 451h1v1h-1zM898 452h1v1h-1zM899 452h1v1h-1zM900 453h1v1h-1zM901 453h1v1h-1zM902 453h1v1h-1zM903 453h1v1h-1zM904 453h1v1h-1zM905 453h1v1h-1zM906 453h1v1h-1zM907 453h1v1h-1zM908 453h1v1h-1zM909 453h1v1h-1zM910 453h1v1h-1zM911 453h1v1h-1zM912 453h1v1h-1zM913 453h1v1h-1zM914 453h1v1h-1zM915 453h1v1h-1zM916 453h1v1h-1zM917 453h1v1h-1zM918 453h1v1h-1zM919 453h1v1h-1zM920 453h1v1h-1zM921 453h1v1h-1zM922 453h1v1h-1zM923 453h1v1h-1zM924 453h1v1h-1zM925 453h1v1h-1z" fill="#ff0000" shape-rendering="crispEdges"/>
<text x="1171" y="419" font-size="10" fill="#000" textLength="37.5" lengthAdjust="spacingAndGlyphs" stroke="#000" stroke-width="0.2">0.005963</text>
<rect x="1168" y="452" width="2" height="1" fill="#000"/>
<text x="1171.5" y="456" font-size="10" fill="#000" textLength="17.5" lengthAdjust="spacingAndGlyphs" stroke="#000" stroke-width="0.2">0.00</text>
<text x="1170.6" y="476" font-size="10" fill="#000" textLength="40.5" lengthAdjust="spacingAndGlyphs" stroke="#000" stroke-width="0.2">-0.003664</text>
<rect x="1168" y="410" width="2" height="1" fill="#000"/>
<rect x="1168" y="477" width="2" height="1" fill="#000"/>
<rect x="1168" y="482" width="2" height="1" fill="#000"/>
<text x="9" y="493" font-size="10" fill="#000" textLength="68" lengthAdjust="spacingAndGlyphs" stroke="#000" stroke-width="0.2">RSI(14) 60.6027</text>
<line x1="5" y1="502.5" x2="1167" y2="502.5" stroke="#c0c0c0" stroke-width="1" stroke-dasharray="3 3" shape-rendering="crispEdges"/>
<line x1="5" y1="530.5" x2="1167" y2="530.5" stroke="#c0c0c0" stroke-width="1" stroke-dasharray="3 3" shape-rendering="crispEdges"/>
<path d="M5 519h1v1h-1zM6 518h1v1h-1zM7 518h1v1h-1zM8 518h1v1h-1zM9 517h1v1h-1zM10 517h1v1h-1zM11 518h1v1h-1zM12 518h1v1h-1zM13 517h1v2h-1zM14 515h1v2h-1zM15 513h1v2h-1zM16 511h1v2h-1zM17 509h1v2h-1zM18 507h1v2h-1zM19 506h1v1h-1zM20 504h1v2h-1zM21 503h1v1h-1zM22 502h1v1h-1zM23 502h1v1h-1zM24 501h1v1h-1zM25 500h1v1h-1zM26 500h1v1h-1zM27 500h1v1h-1zM28 500h1v1h-1zM29 500h1v1h-1zM30 501h1v1h-1zM31 502h1v1h-1zM32 503h1v1h-1zM33 504h1v1h-1zM34 504h1v1h-1zM35 504h1v1h-1zM36 504h1v1h-1zM37 504h1v1h-1zM38 504h1v1h-1zM39 504h1v1h-1zM40 505h1v1h-1zM41 505h1v1h-1zM42 505h1v1h-1zM43 505h1v1h-1zM44 505h1v1h-1zM45 505h1v1h-1zM46 505h1v1h-1zM47 505h1v1h-1zM48 505h1v1h-1zM49 505h1v1h-1zM50 506h1v1h-1zM51 506h1v1h-1zM52 507h1v1h-1zM53 508h1v1h-1zM54 507h1v1h-1zM55 506h1v1h-1zM56 506h1v1h-1zM57 505h1v1h-1zM58 505h1v1h-1zM59 504h1v1h-1zM60 504h1v1h-1zM61 504h1v1h-1zM62 503h1v1h-1zM63 502h1v1h-1zM64 502h1v1h-1zM65 501h1v1h-1zM66 501h1v1h-1zM67 500h1v1h-1zM68 500h1v1h-1zM69 500h1v2h-1zM70 502h1v2h-1zM71 504h1v2h-1zM72 506h1v2h-1zM73 508h1v2h-1zM74 508h1v1h-1zM75 508h1v1h-1zM76 508h1v1h-1zM77 507h1v1h-1zM78 507h1v1h-1zM79 507h1v1h-1zM80 507h1v1h-1zM81 507h1v1h-1zM82 506h1v1h-1zM83 506h1v1h-1zM84 506h1v1h-1zM85 505h1v1h-1zM86 505h1v1h-1zM87 504h1v1h-1zM88 504h1v1h-1zM89 504h1v2h-1zM90 506h1v3h-1zM91 509h1v4h-1zM92 513h1v3h-1zM93 516h1v2h-1zM94 517h1v1h-1zM95 518h1v1h-1zM96 518h1v1h-1zM97 518h1v1h-1zM98 518h1v1h-1zM99 518h1v1h-1zM100 518h1v1h-1zM101 518h1v1h-1zM102 518h1v1h-1zM103 518h1v1h-1zM104 517h1v1h-1zM105 517h1v1h-1zM106 516h1v1h-1zM107 515h1v1h-1zM108 514h1v1h-1zM109 513h1v1h-1zM110 514h1v1h-1zM111 515h1v2h-1zM112 517h1v1h-1zM113 518h1v1h-1zM114 517h1v1h-1zM115 516h1v1h-1zM116 516h1v1h-1zM117 515h1v1h-1zM118 514h1v1h-1zM119 514h1v1h-1zM120 513h1v1h-1zM121 512h1v1h-1zM122 512h1v1h-1zM123 513h1v1h-1zM124 514h1v1h-1zM125 514h1v1h-1zM126 514h1v1h-1zM127 514h1v1h-1zM128 514h1v1h-1zM129 514h1v1h-1zM130 514h1v1h-1zM131 513h1v1h-1zM132 512h1v1h-1zM133 512h1v1h-1zM134 513h1v1h-1zM135 514h1v1h-1zM136 515h1v1h-1zM137 516h1v1h-1zM138 516h1v1h-1zM139 515h1v1h-1zM140 514h1v1h-1zM141 514h1v1h-1zM142 514h1v1h-1zM143 514h1v1h-1zM144 513h1v1h-1zM145 513h1v1h-1zM146 513h1v1h-1zM147 513h1v1h-1zM148 513h1v1h-1zM149 513h1v1h-1zM150 514h1v1h-1zM151 515h1v2h-1zM152 517h1v1h-1zM153 518h1v1h-1zM154 518h1v1h-1zM155 518h1v1h-1zM156 519h1v1h-1zM157 519h1v1h-1zM158 520h1v1h-1zM159 521h1v2h-1zM160 523h1v1h-1zM161 524h1v1h-1zM162 525h1v1h-1zM163 526h1v1h-1zM164 526h1v1h-1zM165 527h1v1h-1zM166 527h1v1h-1zM167 526h1v1h-1zM168 526h1v1h-1zM169 526h1v1h-1zM170 526h1v1h-1zM171 526h1v1h-1zM172 526h1v1h-1zM173 526h1v1h-1zM174 526h1v1h-1zM175 526h1v1h-1zM176 527h1v1h-1zM177 527h1v1h-1zM178 527h1v1h-1zM179 528h1v1h-1zM180 528h1v1h-1zM181 528h1v1h-1zM182 527h1v1h-1zM183 526h1v1h-1zM184 526h1v1h-1zM185 525h1v1h-1zM186 525h1v1h-1zM187 524h1v1h-1zM188 524h1v1h-1zM189 523h1v2h-1zM190 520h1v3h-1zM191 518h1v2h-1zM192 515h1v3h-1zM193 513h1v2h-1zM194 513h1v1h-1zM195 512h1v1h-1zM196 512h1v1h-1zM197 512h1v1h-1zM198 511h1v1h-1zM199 510h1v1h-1zM200 510h1v1h-1zM201 509h1v1h-1zM202 508h1v1h-1zM203 508h1v1h-1zM204 507h1v1h-1zM205 506h1v1h-1zM206 506h1v1h-1zM207 507h1v1h-1zM208 508h1v1h-1zM209 508h1v1h-1zM210 508h1v1h-1zM211 508h1v1h-1zM212 507h1v1h-1zM213 507h1v2h-1zM214 509h1v2h-1zM215 511h1v2h-1zM216 513h1v2h-1zM217 515h1v2h-1zM218 516h1v1h-1zM219 516h1v1h-1zM220 516h1v1h-1zM221 516h1v1h-1zM222 516h1v1h-1zM223 517h1v1h-1zM224 518h1v1h-1zM225 518h1v1h-1zM226 518h1v1h-1zM227 517h1v1h-1zM228 516h1v1h-1zM229 516h1v1h-1zM230 515h1v1h-1zM231 514h1v1h-1zM232 514h1v1h-1zM233 513h1v1h-1zM234 513h1v1h-1zM235 512h1v1h-1zM236 512h1v1h-1zM237 512h1v1h-1zM238 512h1v1h-1zM239 513h1v1h-1zM240 514h1v1h-1zM241 514h1v1h-1zM242 514h1v1h-1zM243 514h1v1h-1zM244 514h1v1h-1zM245 514h1v1h-1zM246 515h1v1h-1zM247 516h1v2h-1zM248 518h1v1h-1zM249 519h1v1h-1zM250 519h1v1h-1zM251 518h1v1h-1zM252 518h1v1h-1zM253 518h1v1h-1zM254 518h1v1h-1zM255 518h1v1h-1zM256 518h1v1h-1zM257 518h1v1h-1zM258 517h1v1h-1zM259 515h1v2h-1zM260 514h1v1h-1zM261 513h1v1h-1zM262 514h1v3h-1zM263 517h1v1h-1zM264 518h1v3h-1zM265 521h1v1h-1zM266 521h1v1h-1zM267 521h1v1h-1zM268 521h1v1h-1zM269 521h1v1h-1zM270 519h1v2h-1zM271 517h1v2h-1zM272 515h1v2h-1zM273 514h1v1h-1zM274 514h1v1h-1zM275 515h1v1h-1zM276 516h1v1h-1zM277 516h1v1h-1zM278 516h1v1h-1zM279 516h1v1h-1zM280 515h1v1h-1zM281 515h1v1h-1zM282 516h1v1h-1zM283 516h1v1h-1zM284 516h1v1h-1zM285 517h1v1h-1zM286 517h1v1h-1zM287 518h1v1h-1zM288 518h1v1h-1zM289 518h1v1h-1zM290 518h1v1h-1zM291 518h1v1h-1zM292 517h1v1h-1zM293 517h1v1h-1zM294 517h1v1h-1zM295 516h1v1h-1zM296 516h1v1h-1zM297 516h1v1h-1zM298 515h1v1h-1zM299 513h1v2h-1zM300 512h1v1h-1zM301 511h1v1h-1zM302 510h1v1h-1zM303 510h1v1h-1zM304 510h1v1h-1zM305 509h1v1h-1zM306 510h1v2h-1zM307 512h1v2h-1zM308 514h1v2h-1zM309 516h1v1h-1zM310 516h1v1h-1zM311 515h1v1h-1zM312 514h1v1h-1zM313 514h1v1h-1zM314 514h1v1h-1zM315 514h1v1h-1zM316 513h1v1h-1zM317 513h1v1h-1zM318 512h1v1h-1zM319 512h1v1h-1zM320 511h1v1h-1zM321 510h1v1h-1zM322 510h1v1h-1zM323 511h1v1h-1zM324 512h1v1h-1zM325 512h1v1h-1zM326 512h1v1h-1zM327 512h1v1h-1zM328 513h1v1h-1zM329 513h1v1h-1zM330 511h1v2h-1zM331 509h1v2h-1zM332 507h1v2h-1zM333 506h1v1h-1zM334 505h1v1h-1zM335 504h1v1h-1zM336 504h1v1h-1zM337 503h1v1h-1zM338 503h1v1h-1zM339 503h1v1h-1zM340 503h1v1h-1zM341 503h1v1h-1zM342 504h1v2h-1zM343 506h1v1h-1zM344 507h1v2h-1zM345 509h1v1h-1zM346 510h1v1h-1zM347 511h1v1h-1zM348 512h1v1h-1zM349 513h1v1h-1zM350 513h1v1h-1zM351 512h1v1h-1zM352 512h1v1h-1zM353 512h1v1h-1zM354 512h1v1h-1zM355 512h1v1h-1zM356 513h1v1h-1zM357 513h1v1h-1zM358 513h1v1h-1zM359 512h1v1h-1zM360 512h1v1h-1zM361 512h1v1h-1zM362 512h1v1h-1zM363 512h1v1h-1zM364 513h1v1h-1zM365 513h1v1h-1zM366 513h1v1h-1zM367 512h1v1h-1zM368 512h1v1h-1zM369 512h1v1h-1zM370 511h1v1h-1zM371 510h1v1h-1zM372 510h1v1h-1zM373 509h1v1h-1zM374 508h1v1h-1zM375 507h1v1h-1zM376 506h1v1h-1zM377 505h1v1h-1zM378 506h1v1h-1zM379 506h1v1h-1zM380 506h1v1h-1zM381 507h1v1h-1zM382 508h1v1h-1zM383 508h1v1h-1zM384 509h1v1h-1zM385 510h1v1h-1zM386 510h1v1h-1zM387 510h1v1h-1zM388 511h1v1h-1zM389 511h1v1h-1zM390 512h1v1h-1zM391 513h1v2h-1zM392 515h1v1h-1zM393 516h1v1h-1zM394 515h1v1h-1zM395 514h1v1h-1zM396 514h1v1h-1zM397 513h1v1h-1zM398 513h1v1h-1zM399 513h1v1h-1zM400 513h1v1h-1zM401 513h1v1h-1zM402 513h1v1h-1zM403 513h1v1h-1zM404 513h1v1h-1zM405 513h1v1h-1zM406 514h1v1h-1zM407 514h1v1h-1zM408 514h1v1h-1zM409 515h1v1h-1zM410 515h1v1h-1zM411 514h1v1h-1zM412 514h1v1h-1zM413 514h1v1h-1zM414 514h1v1h-1zM415 514h1v1h-1zM416 514h1v1h-1zM417 514h1v1h-1zM418 514h1v1h-1zM419 513h1v1h-1zM420 512h1v1h-1zM421 512h1v1h-1zM422 513h1v2h-1zM423 515h1v1h-1zM424 516h1v2h-1zM425 518h1v1h-1zM426 518h1v1h-1zM427 518h1v1h-1zM428 518h1v1h-1zM429 518h1v1h-1zM430 518h1v1h-1zM431 518h1v1h-1zM432 519h1v1h-1zM433 519h1v1h-1zM434 519h1v1h-1zM435 518h1v1h-1zM436 518h1v1h-1zM437 518h1v1h-1zM438 518h1v1h-1zM439 518h1v1h-1zM440 519h1v1h-1zM441 519h1v1h-1zM442 519h1v1h-1zM443 519h1v1h-1zM444 519h1v1h-1zM445 519h1v1h-1zM446 520h1v1h-1zM447 521h1v2h-1zM448 523h1v1h-1zM449 524h1v1h-1zM450 524h1v1h-1zM451 524h1v1h-1zM452 524h1v1h-1zM453 524h1v1h-1zM454 524h1v1h-1zM455 525h1v1h-1zM456 526h1v1h-1zM457 526h1v1h-1zM458 526h1v1h-1zM459 526h1v1h-1zM460 525h1v1h-1zM461 525h1v1h-1zM462 524h1v1h-1zM463 523h1v1h-1zM464 522h1v1h-1zM465 521h1v1h-1zM466 521h1v1h-1zM467 521h1v1h-1zM468 521h1v1h-1zM469 521h1v1h-1zM470 522h1v1h-1zM471 522h1v1h-1zM472 522h1v1h-1zM473 523h1v1h-1zM474 524h1v1h-1zM475 525h1v2h-1zM476 527h1v1h-1zM477 528h1v1h-1zM478 527h1v1h-1zM479 525h1v2h-1zM480 524h1v1h-1zM481 523h1v1h-1zM482 523h1v1h-1zM483 522h1v1h-1zM484 522h1v1h-1zM485 522h1v1h-1zM486 523h1v2h-1zM487 525h1v1h-1zM488 526h1v2h-1zM489 528h1v1h-1zM490 526h1v2h-1zM491 524h1v2h-1zM492 522h1v2h-1zM493 521h1v1h-1zM494 522h1v1h-1zM495 522h1v1h-1zM496 522h1v1h-1zM497 523h1v1h-1zM498 523h1v1h-1zM499 522h1v1h-1zM500 522h1v1h-1zM501 522h1v1h-1zM502 522h1v1h-1zM503 522h1v1h-1zM504 522h1v1h-1zM505 522h1v1h-1zM506 522h1v1h-1zM507 522h1v1h-1zM508 523h1v1h-1zM509 523h1v1h-1zM510 522h1v1h-1zM511 522h1v1h-1zM512 522h1v1h-1zM513 521h1v1h-1zM514 522h1v1h-1zM515 522h1v1h-1zM516 522h1v1h-1zM517 523h1v1h-1zM518 520h1v3h-1zM519 519h1v1h-1zM520 516h1v3h-1zM521 515h1v1h-1zM522 514h1v1h-1zM523 514h1v1h-1zM524 513h1v1h-1zM525 512h1v1h-1zM526 512h1v1h-1zM527 512h1v1h-1zM528 513h1v1h-1zM529 513h1v1h-1zM530 513h1v1h-1zM531 512h1v1h-1zM532 512h1v1h-1zM533 512h1v1h-1zM534 511h1v1h-1zM535 510h1v1h-1zM536 510h1v1h-1zM537 509h1v1h-1zM538 508h1v1h-1zM539 507h1v1h-1zM540 506h1v1h-1zM541 505h1v1h-1zM542 506h1v1h-1zM543 506h1v1h-1zM544 506h1v1h-1zM545 507h1v1h-1zM546 508h1v1h-1zM547 508h1v1h-1zM548 509h1v1h-1zM549 510h1v1h-1zM550 510h1v1h-1zM551 510h1v1h-1zM552 509h1v1h-1zM553 509h1v1h-1zM554 509h1v1h-1zM555 509h1v1h-1zM556 509h1v1h-1zM557 509h1v1h-1zM558 508h1v1h-1zM559 508h1v1h-1zM560 507h1v1h-1zM561 506h1v1h-1zM562 506h1v1h-1zM563 506h1v1h-1zM564 505h1v1h-1zM565 505h1v1h-1zM566 505h1v1h-1zM567 504h1v1h-1zM568 504h1v1h-1zM569 504h1v1h-1zM570 504h1v1h-1zM571 503h1v1h-1zM572 503h1v1h-1zM573 504h1v2h-1zM574 506h1v4h-1zM575 510h1v3h-1zM576 513h1v4h-1zM577 517h1v2h-1zM578 518h1v1h-1zM579 517h1v1h-1zM580 516h1v1h-1zM581 516h1v1h-1zM582 516h1v1h-1zM583 517h1v1h-1zM584 518h1v1h-1zM585 518h1v1h-1zM586 519h1v1h-1zM587 520h1v1h-1zM588 520h1v1h-1zM589 521h1v1h-1zM590 520h1v1h-1zM591 520h1v1h-1zM592 520h1v1h-1zM593 519h1v1h-1zM594 520h1v1h-1zM595 520h1v1h-1zM596 520h1v1h-1zM597 521h1v1h-1zM598 521h1v1h-1zM599 522h1v1h-1zM600 522h1v1h-1zM601 522h1v1h-1zM602 522h1v1h-1zM603 521h1v1h-1zM604 520h1v1h-1zM605 520h1v1h-1zM606 518h1v2h-1zM607 517h1v1h-1zM608 515h1v2h-1zM609 514h1v1h-1zM610 514h1v1h-1zM611 514h1v1h-1zM612 515h1v1h-1zM613 515h1v1h-1zM614 516h1v1h-1zM615 517h1v1h-1zM616 518h1v1h-1zM617 519h1v1h-1zM618 518h1v1h-1zM619 518h1v1h-1zM620 517h1v1h-1zM621 516h1v1h-1zM622 516h1v1h-1zM623 517h1v1h-1zM624 518h1v1h-1zM625 518h1v1h-1zM626 518h1v1h-1zM627 518h1v1h-1zM628 517h1v1h-1zM629 517h1v1h-1zM630 517h1v1h-1zM631 516h1v1h-1zM632 516h1v1h-1zM633 516h1v1h-1zM634 516h1v1h-1zM635 516h1v1h-1zM636 515h1v1h-1zM637 515h1v1h-1zM638 515h1v1h-1zM639 514h1v1h-1zM640 514h1v1h-1zM641 514h1v1h-1zM642 515h1v2h-1zM643 517h1v2h-1zM644 519h1v2h-1zM645 521h1v1h-1zM646 519h1v2h-1zM647 518h1v1h-1zM648 516h1v2h-1zM649 515h1v1h-1zM650 515h1v1h-1zM651 515h1v1h-1zM652 515h1v1h-1zM653 515h1v1h-1zM654 516h1v1h-1zM655 516h1v1h-1zM656 516h1v1h-1zM657 517h1v1h-1zM658 517h1v1h-1zM659 516h1v1h-1zM660 516h1v1h-1zM661 516h1v1h-1zM662 517h1v1h-1zM663 518h1v1h-1zM664 518h1v1h-1zM665 519h1v1h-1zM666 520h1v1h-1zM667 520h1v1h-1zM668 520h1v1h-1zM669 521h1v1h-1zM670 521h1v1h-1zM671 521h1v1h-1zM672 521h1v1h-1zM673 521h1v1h-1zM674 521h1v1h-1zM675 521h1v1h-1zM676 521h1v1h-1zM677 521h1v1h-1zM678 521h1v1h-1zM679 521h1v1h-1zM680 521h1v1h-1zM681 521h1v1h-1zM682 521h1v1h-1zM683 521h1v1h-1zM684 521h1v1h-1zM685 521h1v1h-1zM686 522h1v1h-1zM687 523h1v1h-1zM688 524h1v1h-1zM689 525h1v1h-1zM690 525h1v1h-1zM691 525h1v1h-1zM692 525h1v1h-1zM693 525h1v1h-1zM694 526h1v1h-1zM695 526h1v1h-1zM696 526h1v1h-1zM697 527h1v1h-1zM698 527h1v1h-1zM699 526h1v1h-1zM700 526h1v1h-1zM701 525h1v2h-1zM702 523h1v2h-1zM703 521h1v2h-1zM704 519h1v2h-1zM705 517h1v2h-1zM706 518h1v1h-1zM707 518h1v1h-1zM708 518h1v1h-1zM709 519h1v1h-1zM710 519h1v1h-1zM711 518h1v1h-1zM712 518h1v1h-1zM713 518h1v1h-1zM714 517h1v1h-1zM715 515h1v2h-1zM716 514h1v1h-1zM717 513h1v1h-1zM718 514h1v1h-1zM719 514h1v1h-1zM720 515h1v1h-1zM721 516h1v1h-1zM722 516h1v1h-1zM723 516h1v1h-1zM724 516h1v1h-1zM725 516h1v1h-1zM726 513h1v3h-1zM727 512h1v1h-1zM728 509h1v3h-1zM729 508h1v1h-1zM730 509h1v1h-1zM731 510h1v1h-1zM732 511h1v1h-1zM733 512h1v1h-1zM734 513h1v3h-1zM735 516h1v1h-1zM736 517h1v3h-1zM737 520h1v1h-1zM738 520h1v1h-1zM739 521h1v1h-1zM740 522h1v1h-1zM741 522h1v1h-1zM742 522h1v1h-1zM743 521h1v1h-1zM744 520h1v1h-1zM745 520h1v1h-1zM746 520h1v1h-1zM747 520h1v1h-1zM748 519h1v1h-1zM749 519h1v1h-1zM750 520h1v1h-1zM751 520h1v1h-1zM752 520h1v1h-1zM753 521h1v1h-1zM754 520h1v1h-1zM755 519h1v1h-1zM756 518h1v1h-1zM757 517h1v1h-1zM758 517h1v1h-1zM759 518h1v1h-1zM760 518h1v1h-1zM761 518h1v1h-1zM762 518h1v1h-1zM763 518h1v1h-1zM764 517h1v1h-1zM765 517h1v1h-1zM766 518h1v1h-1zM767 519h1v1h-1zM768 520h1v1h-1zM769 521h1v1h-1zM770 521h1v1h-1zM771 520h1v1h-1zM772 520h1v1h-1zM773 520h1v1h-1zM774 520h1v1h-1zM775 520h1v1h-1zM776 519h1v1h-1zM777 519h1v1h-1zM778 518h1v1h-1zM779 517h1v1h-1zM780 516h1v1h-1zM781 515h1v1h-1zM782 514h1v1h-1zM783 512h1v2h-1zM784 511h1v1h-1zM785 510h1v1h-1zM786 509h1v1h-1zM787 507h1v2h-1zM788 506h1v1h-1zM789 505h1v1h-1zM790 505h1v1h-1zM791 505h1v1h-1zM792 505h1v1h-1zM793 505h1v1h-1zM794 505h1v1h-1zM795 505h1v1h-1zM796 505h1v1h-1zM797 505h1v1h-1zM798 506h1v1h-1zM799 507h1v2h-1zM800 509h1v1h-1zM801 510h1v1h-1zM802 511h1v2h-1zM803 513h1v1h-1zM804 514h1v2h-1zM805 516h1v1h-1zM806 516h1v1h-1zM807 517h1v1h-1zM808 518h1v1h-1zM809 518h1v1h-1zM810 518h1v1h-1zM811 517h1v1h-1zM812 516h1v1h-1zM813 516h1v1h-1zM814 515h1v1h-1zM815 514h1v1h-1zM816 513h1v1h-1zM817 512h1v1h-1zM818 512h1v1h-1zM819 512h1v1h-1zM820 512h1v1h-1zM821 512h1v1h-1zM822 512h1v1h-1zM823 513h1v1h-1zM824 514h1v1h-1zM825 514h1v1h-1zM826 514h1v1h-1zM827 514h1v1h-1zM828 513h1v1h-1zM829 513h1v1h-1zM830 513h1v1h-1zM831 513h1v1h-1zM832 513h1v1h-1zM833 513h1v1h-1zM834 513h1v1h-1zM835 512h1v1h-1zM836 512h1v1h-1zM837 512h1v1h-1zM838 512h1v1h-1zM839 512h1v1h-1zM840 513h1v1h-1zM841 513h1v1h-1zM842 513h1v1h-1zM843 513h1v1h-1zM844 513h1v1h-1zM845 513h1v1h-1zM846 513h1v1h-1zM847 514h1v1h-1zM848 514h1v1h-1zM849 514h1v1h-1zM850 514h1v1h-1zM851 513h1v1h-1zM852 512h1v1h-1zM853 512h1v1h-1zM854 513h1v1h-1zM855 514h1v2h-1zM856 516h1v1h-1zM857 517h1v1h-1zM858 518h1v1h-1zM859 518h1v1h-1zM860 518h1v1h-1zM861 519h1v1h-1zM862 519h1v1h-1zM863 518h1v1h-1zM864 518h1v1h-1zM865 518h1v1h-1zM866 518h1v1h-1zM867 518h1v1h-1zM868 518h1v1h-1zM869 518h1v1h-1zM870 519h1v1h-1zM871 520h1v2h-1zM872 522h1v1h-1zM873 523h1v1h-1zM874 521h1v2h-1zM875 519h1v2h-1zM876 517h1v2h-1zM877 516h1v1h-1zM878 517h1v1h-1zM879 518h1v1h-1zM880 519h1v1h-1zM881 520h1v1h-1zM882 517h1v3h-1zM883 516h1v1h-1zM884 513h1v3h-1zM885 512h1v1h-1zM886 512h1v1h-1zM887 512h1v1h-1zM888 512h1v1h-1zM889 512h1v1h-1zM890 512h1v1h-1zM891 512h1v1h-1zM892 512h1v1h-1zM893 512h1v2h-1zM894 514h1v2h-1zM895 516h1v2h-1zM896 518h1v2h-1zM897 520h1v2h-1zM898 520h1v1h-1zM899 520h1v1h-1zM900 520h1v1h-1zM901 519h1v1h-1zM902 518h1v1h-1zM903 518h1v1h-1zM904 518h1v1h-1zM905 517h1v1h-1zM906 518h1v1h-1zM907 518h1v1h-1zM908 518h1v1h-1zM909 519h1v1h-1zM910 519h1v1h-1zM911 519h1v1h-1zM912 519h1v1h-1zM913 519h1v1h-1zM914 518h1v1h-1zM915 518h1v1h-1zM916 518h1v1h-1zM917 517h1v1h-1zM918 516h1v1h-1zM919 514h1v2h-1zM920 513h1v1h-1zM921 512h1v1h-1zM922 512h1v1h-1zM923 511h1v1h-1zM924 510h1v1h-1zM925 510h1v1h-1z" fill="#1e90ff" shape-rendering="crispEdges"/>
<text x="1171.5" y="491" font-size="10" fill="#000" textLength="15" lengthAdjust="spacingAndGlyphs" stroke="#000" stroke-width="0.2">100</text>
<text x="1171.5" y="506" font-size="10" fill="#000" textLength="10" lengthAdjust="spacingAndGlyphs" stroke="#000" stroke-width="0.2">70</text>
<text x="1171.5" y="534" font-size="10" fill="#000" textLength="10" lengthAdjust="spacingAndGlyphs" stroke="#000" stroke-width="0.2">30</text>
<text x="1171.5" y="548" font-size="10" fill="#000" textLength="5" lengthAdjust="spacingAndGlyphs" stroke="#000" stroke-width="0.2">0</text>
<rect x="5" y="552" width="1" height="3" fill="#000"/>
<text x="4.7" y="564" font-size="10" fill="#000" textLength="48.6" lengthAdjust="spacingAndGlyphs" stroke="#000" stroke-width="0.2">13 Jun 2021</text>
<rect x="69" y="552" width="1" height="3" fill="#000"/>
<text x="68.7" y="564" font-size="10" fill="#000" textLength="40.4" lengthAdjust="spacingAndGlyphs" stroke="#000" stroke-width="0.2">1 Jul 2021</text>
<rect x="133" y="552" width="1" height="3" fill="#000"/>
<text x="132.7" y="564" font-size="10" fill="#000" textLength="45.7" lengthAdjust="spacingAndGlyphs" stroke="#000" stroke-width="0.2">20 Jul 2021</text>
<rect x="197" y="552" width="1" height="3" fill="#000"/>
<text x="196.7" y="564" font-size="10" fill="#000" textLength="46.4" lengthAdjust="spacingAndGlyphs" stroke="#000" stroke-width="0.2">8 Aug 2021</text>
<rect x="261" y="552" width="1" height="3" fill="#000"/>
<text x="260.7" y="564" font-size="10" fill="#000" textLength="50.7" lengthAdjust="spacingAndGlyphs" stroke="#000" stroke-width="0.2">26 Aug 2021</text>
<rect x="325" y="552" width="1" height="3" fill="#000"/>
<text x="324.7" y="564" font-size="10" fill="#000" textLength="50" lengthAdjust="spacingAndGlyphs" stroke="#000" stroke-width="0.2">14 Sep 2021</text>
<rect x="389" y="552" width="1" height="3" fill="#000"/>
<text x="388.7" y="564" font-size="10" fill="#000" textLength="45.4" lengthAdjust="spacingAndGlyphs" stroke="#000" stroke-width="0.2">3 Oct 2021</text>
<rect x="453" y="552" width="1" height="3" fill="#000"/>
<text x="452.7" y="564" font-size="10" fill="#000" textLength="50.8" lengthAdjust="spacingAndGlyphs" stroke="#000" stroke-width="0.2">21 Oct 2021</text>
<rect x="517" y="552" width="1" height="3" fill="#000"/>
<text x="516.7" y="564" font-size="10" fill="#000" textLength="48.8" lengthAdjust="spacingAndGlyphs" stroke="#000" stroke-width="0.2">9 Nov 2021</text>
<rect x="581" y="552" width="1" height="3" fill="#000"/>
<text x="580.7" y="564" font-size="10" fill="#000" textLength="53.3" lengthAdjust="spacingAndGlyphs" stroke="#000" stroke-width="0.2">28 Nov 2021</text>
<rect x="645" y="552" width="1" height="3" fill="#000"/>
<text x="644.7" y="564" font-size="10" fill="#000" textLength="51.3" lengthAdjust="spacingAndGlyphs" stroke="#000" stroke-width="0.2">16 Dec 2021</text>
<rect x="709" y="552" width="1" height="3" fill="#000"/>
<text x="708.7" y="564" font-size="10" fill="#000" textLength="44.5" lengthAdjust="spacingAndGlyphs" stroke="#000" stroke-width="0.2">4 Jan 2022</text>
<rect x="773" y="552" width="1" height="3" fill="#000"/>
<text x="772.7" y="564" font-size="10" fill="#000" textLength="50.5" lengthAdjust="spacingAndGlyphs" stroke="#000" stroke-width="0.2">23 Jan 2022</text>
<rect x="837" y="552" width="1" height="3" fill="#000"/>
<text x="836.7" y="564" font-size="10" fill="#000" textLength="51.3" lengthAdjust="spacingAndGlyphs" stroke="#000" stroke-width="0.2">10 Feb 2022</text>
<rect x="901" y="552" width="1" height="3" fill="#000"/>
<text x="900.7" y="564" font-size="10" fill="#000" textLength="45.8" lengthAdjust="spacingAndGlyphs" stroke="#000" stroke-width="0.2">1 Mar 2022</text>
<rect x="0" y="572" width="1210" height="1" fill="#e0e0e0"/>
<rect x="0" y="573" width="1210" height="1" fill="#f4f4f4"/>
<rect x="0" y="574" width="1210" height="20" fill="#f0f0f0"/>
<rect x="0" y="574" width="1210" height="1" fill="#000"/>
<rect x="0" y="575" width="2" height="18" fill="#808080"/>
<rect x="0" y="594" width="1210" height="4" fill="#fcfcfc"/>
<rect x="323" y="574" width="107" height="19" fill="#fff"/>
<rect x="322" y="574" width="1" height="19" fill="#000"/>
<rect x="429" y="574" width="1" height="19" fill="#000"/>
<rect x="322" y="592" width="108" height="1" fill="#000"/>
<text x="18" y="589" font-size="12.6" fill="#707070" textLength="77" lengthAdjust="spacingAndGlyphs">USDX,Weekly</text>
<text x="117.5" y="589" font-size="12.6" fill="#707070" textLength="85.5" lengthAdjust="spacingAndGlyphs">EURUSD-,Daily</text>
<text x="224.5" y="589" font-size="12.6" fill="#707070" textLength="87.0" lengthAdjust="spacingAndGlyphs">AUDUSD-,Daily</text>
<text x="334" y="589" font-size="12.6" fill="#000" textLength="84" lengthAdjust="spacingAndGlyphs" stroke="#000" stroke-width="0.15">USDCHF-,Daily</text>
<text x="441" y="589" font-size="12.6" fill="#707070" textLength="85.5" lengthAdjust="spacingAndGlyphs">USDCAD-,Daily</text>
<text x="550.5" y="589" font-size="12.6" fill="#707070" textLength="87.0" lengthAdjust="spacingAndGlyphs">USDCNH-,Daily</text>
<text x="661" y="589" font-size="12.6" fill="#707070" textLength="86" lengthAdjust="spacingAndGlyphs">XAUUSD-,Daily</text>
<text x="768" y="589" font-size="12.6" fill="#707070" textLength="66.5" lengthAdjust="spacingAndGlyphs">UKOil-,M30</text>
<text x="858" y="589" font-size="12.6" fill="#707070" textLength="64" lengthAdjust="spacingAndGlyphs">DJ30-,Daily</text>
<text x="945" y="589" font-size="12.6" fill="#707070" textLength="61.5" lengthAdjust="spacingAndGlyphs">UK100-,H1</text>
<text x="1030" y="589" font-size="12.6" fill="#707070" textLength="55" lengthAdjust="spacingAndGlyphs">USOil-,H1</text>
<rect x="106" y="578" width="1" height="13" fill="#606060"/>
<rect x="214" y="578" width="1" height="13" fill="#606060"/>
<rect x="538" y="578" width="1" height="13" fill="#606060"/>
<rect x="650" y="578" width="1" height="13" fill="#606060"/>
<rect x="759" y="578" width="1" height="13" fill="#606060"/>
<rect x="847" y="578" width="1" height="13" fill="#606060"/>
<rect x="934" y="578" width="1" height="13" fill="#606060"/>
<rect x="1018" y="578" width="1" height="13" fill="#606060"/>
<rect x="1098" y="578" width="1" height="13" fill="#606060"/>
<path d="M1186 579.5V586.5L1182 583Z" fill="#a0a0a0"/><path d="M1202 579.5V586.5L1206 583Z" fill="#a0a0a0"/>
</svg>
</body></html>
